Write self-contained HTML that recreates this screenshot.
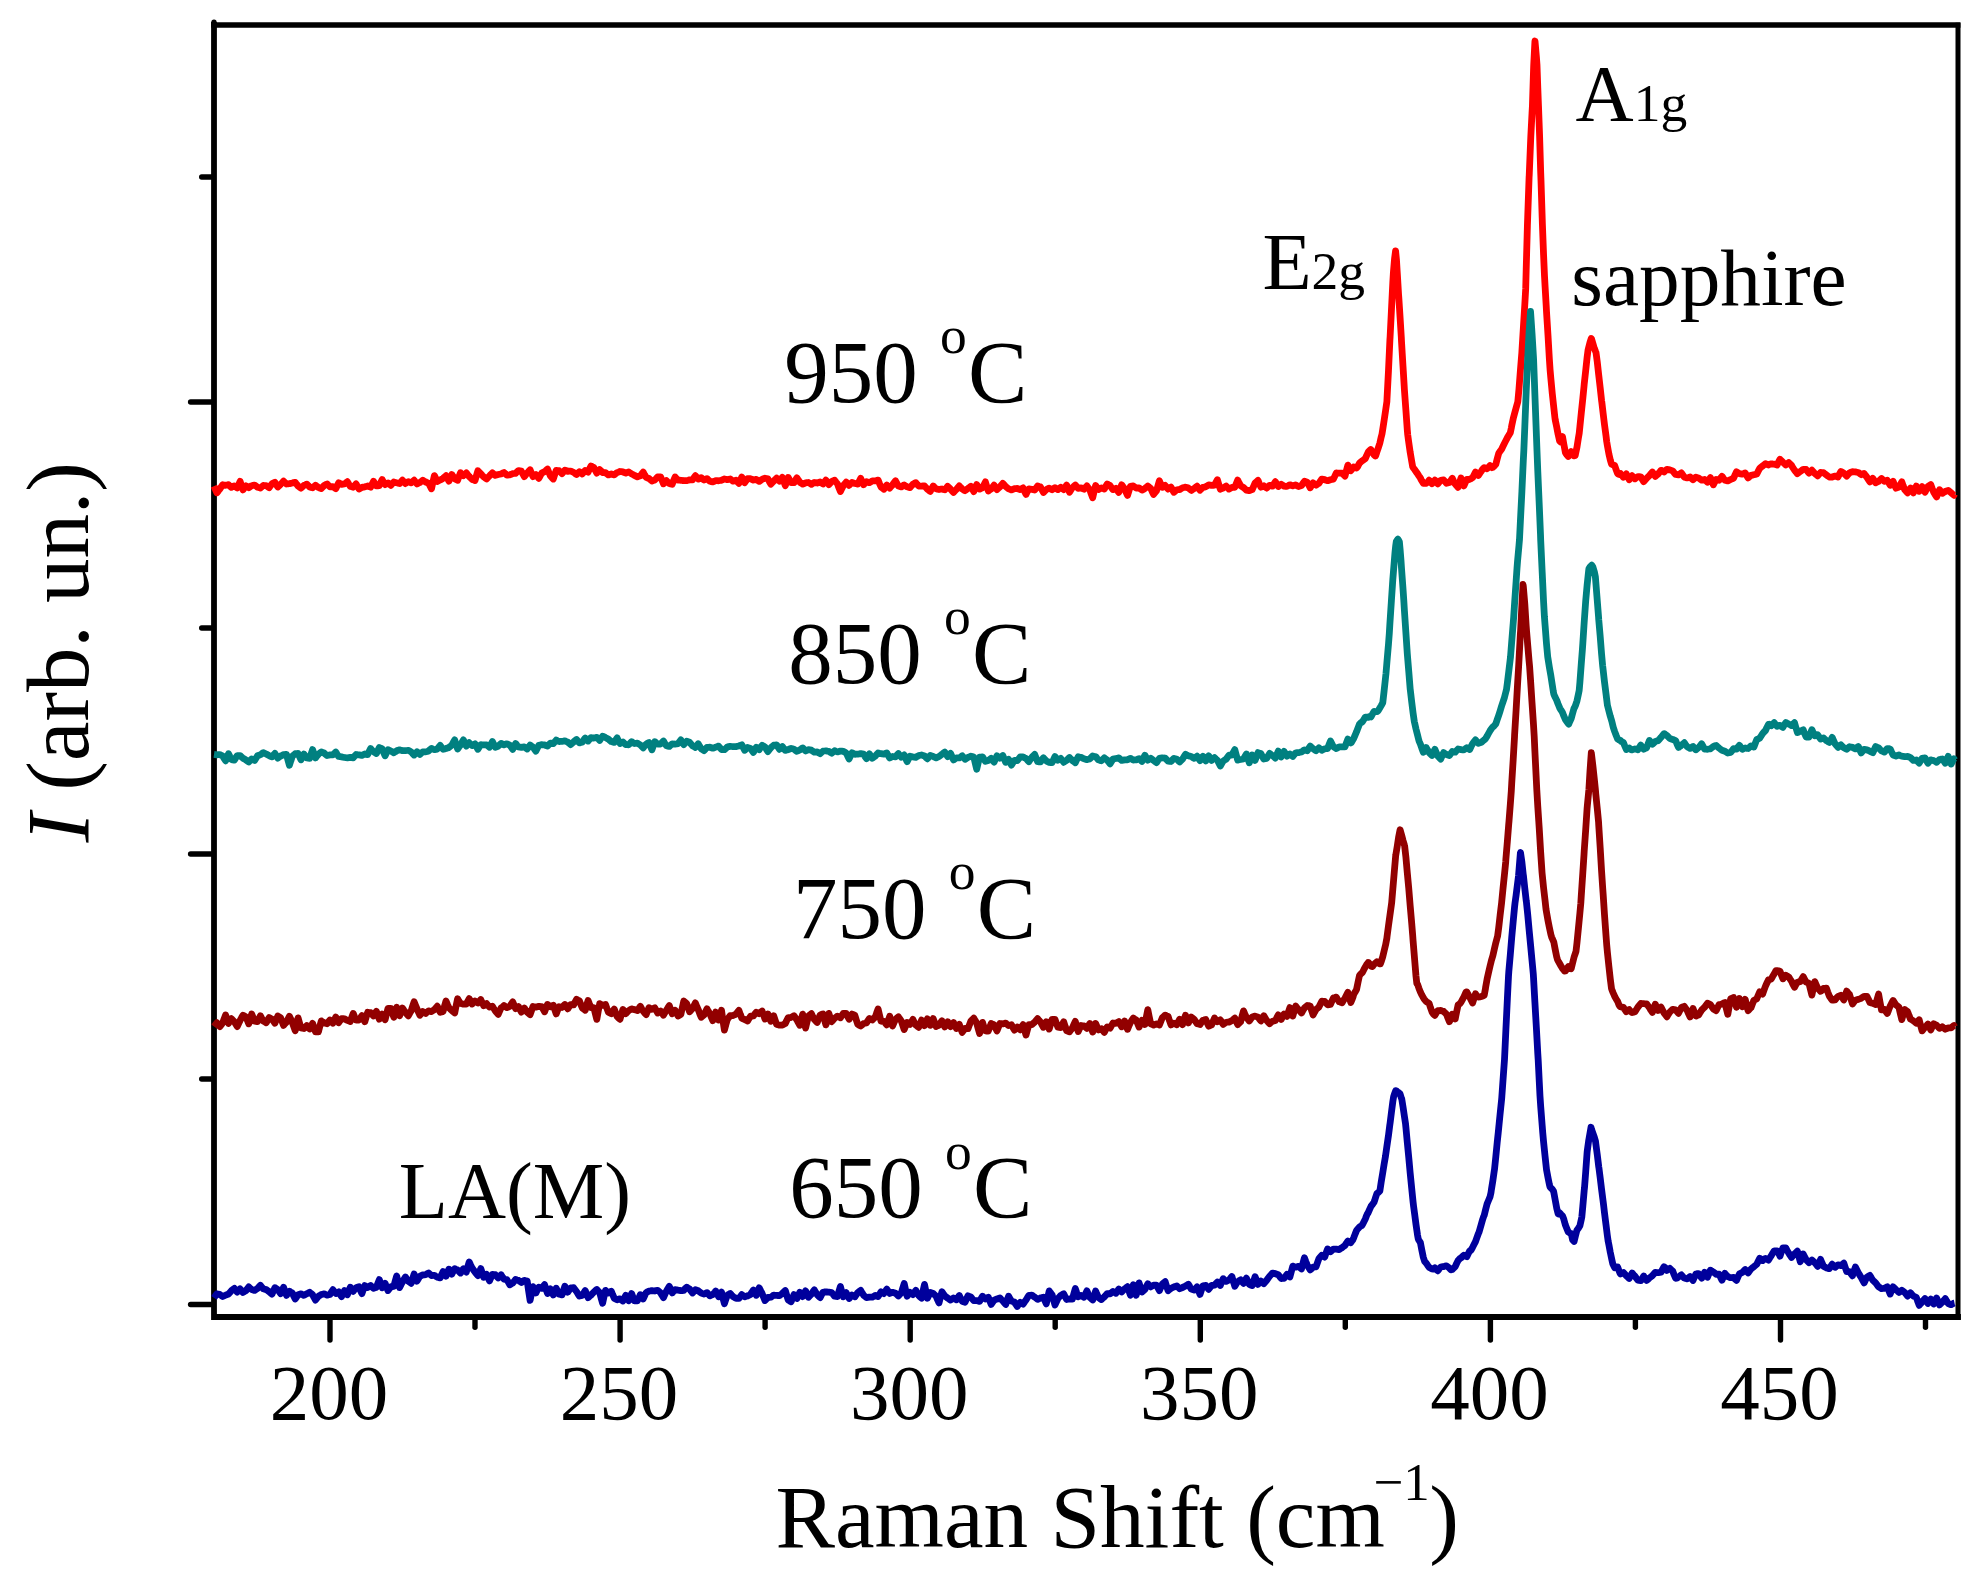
<!DOCTYPE html>
<html lang="en"><head><meta charset="utf-8"><title>Raman spectra</title>
<style>html,body{margin:0;padding:0;background:#fff;overflow:hidden;}svg{display:block;}</style></head>
<body>
<svg width="1981" height="1584" viewBox="0 0 1981 1584">
<rect x="0" y="0" width="1981" height="1584" fill="#ffffff"/>
<g fill="none" stroke="#000" stroke-linecap="square" stroke-linejoin="miter"><path d="M214.0,25.0 L214.0,1317.0 L1958.0,1317.0" stroke-width="5.8"/><path d="M214.0,25.1 L1957.7,25.1" stroke-width="5.5"/><path d="M1958.0,25.3 L1958.0,1317.0" stroke-width="5.0"/></g>
<g stroke="#000" stroke-width="5.4" stroke-linecap="round"><line x1="214.0" y1="22.3" x2="214.0" y2="25.0"/><line x1="330.0" y1="1318.0" x2="330.0" y2="1340"/><line x1="475.0" y1="1318.0" x2="475.0" y2="1327.3"/><line x1="620.1" y1="1318.0" x2="620.1" y2="1340"/><line x1="765.1" y1="1318.0" x2="765.1" y2="1327.3"/><line x1="910.2" y1="1318.0" x2="910.2" y2="1340"/><line x1="1055.2" y1="1318.0" x2="1055.2" y2="1327.3"/><line x1="1200.3" y1="1318.0" x2="1200.3" y2="1340"/><line x1="1345.3" y1="1318.0" x2="1345.3" y2="1327.3"/><line x1="1490.4" y1="1318.0" x2="1490.4" y2="1340"/><line x1="1635.4" y1="1318.0" x2="1635.4" y2="1327.3"/><line x1="1780.5" y1="1318.0" x2="1780.5" y2="1340"/><line x1="1925.5" y1="1318.0" x2="1925.5" y2="1327.3"/><line x1="190.6" y1="1304.5" x2="213.0" y2="1304.5"/><line x1="201.7" y1="1079" x2="213.0" y2="1079"/><line x1="190.6" y1="854" x2="213.0" y2="854"/><line x1="201.7" y1="628" x2="213.0" y2="628"/><line x1="190.6" y1="402" x2="213.0" y2="402"/><line x1="201.7" y1="177" x2="213.0" y2="177"/></g>
<polyline points="214.0,486.1 215.4,489.4 216.9,492.8 218.0,491.4 218.3,490.9 219.8,489.1 221.2,486.9 222.7,484.7 224.1,485.0 225.6,485.3 227.0,485.0 228.5,484.7 229.9,486.1 231.4,487.4 232.8,486.6 234.3,485.9 235.7,486.9 237.2,487.9 238.6,484.6 240.1,481.4 241.5,485.6 243.0,489.9 244.4,487.8 245.9,485.8 247.3,486.7 248.8,487.7 250.2,486.7 251.7,485.7 253.1,485.4 254.6,485.1 256.0,486.1 257.5,487.2 258.9,487.6 260.4,488.1 261.8,486.8 263.3,485.5 264.7,485.6 266.2,485.6 267.6,486.7 269.1,487.7 270.5,485.8 272.0,483.8 273.4,483.0 274.9,482.2 276.3,484.6 277.8,487.0 279.2,485.7 280.7,484.3 282.1,482.8 283.6,481.2 285.0,482.6 286.5,484.0 287.9,483.8 289.4,483.7 290.0,483.5 290.8,483.3 292.3,483.0 293.7,482.6 295.2,482.3 296.6,484.2 298.1,486.1 299.5,487.2 301.0,488.2 302.4,486.8 303.9,485.4 305.3,484.8 306.8,484.1 308.2,485.6 309.7,487.0 311.1,487.4 312.6,487.8 314.0,486.5 315.5,485.2 316.9,486.3 318.4,487.4 319.8,488.0 321.3,488.6 322.7,487.0 324.2,485.5 325.6,484.7 327.1,484.0 328.5,485.4 330.0,486.9 331.4,486.7 332.9,486.6 334.3,487.7 335.8,488.7 337.2,485.8 338.7,482.8 340.1,483.6 341.6,484.3 343.0,484.1 344.5,483.9 345.9,482.8 347.4,481.7 348.8,484.0 350.3,486.3 351.0,486.6 351.7,486.8 353.2,487.2 354.6,485.5 356.1,483.9 357.5,486.5 359.0,489.0 360.4,488.2 361.9,487.4 363.3,487.1 364.8,486.8 366.2,486.4 367.7,486.0 369.1,486.6 370.6,487.2 372.0,484.2 373.5,481.3 374.9,483.6 376.4,485.9 377.8,485.8 379.3,485.7 380.7,482.6 382.2,479.6 383.6,482.1 385.1,484.6 386.5,483.8 388.0,482.9 389.4,484.1 390.9,485.3 392.3,483.6 393.8,482.0 395.2,482.4 396.7,482.8 398.1,483.1 399.6,483.5 401.0,481.8 402.5,480.2 403.9,481.9 405.4,483.6 406.8,482.6 408.3,481.7 409.7,482.3 411.2,482.9 412.6,481.5 414.1,480.2 415.5,482.0 417.0,483.9 418.4,483.2 419.9,482.5 420.0,482.4 421.3,481.4 422.8,480.3 424.2,481.1 425.7,482.0 427.1,482.6 428.6,483.3 430.0,486.0 431.5,488.8 432.9,482.2 434.4,475.6 435.8,478.5 437.3,481.4 438.7,480.7 440.2,480.0 441.6,479.2 443.1,478.3 444.5,477.0 446.0,475.7 447.4,478.4 448.9,481.1 450.3,477.8 451.8,474.5 453.2,476.6 454.7,478.7 456.1,479.5 457.6,480.3 459.0,476.5 460.5,472.7 461.9,474.2 463.4,475.7 464.8,474.3 466.3,472.9 467.7,474.7 469.2,476.5 470.6,477.9 472.1,479.4 473.0,479.7 473.5,479.9 475.0,480.5 476.4,475.7 477.9,470.8 479.3,472.3 480.8,473.7 482.2,475.3 483.7,476.8 485.1,477.9 486.6,478.9 488.0,477.4 489.5,475.9 490.9,474.4 492.4,472.9 493.8,474.1 495.3,475.4 496.7,474.9 498.2,474.5 499.6,474.2 501.1,473.9 502.5,473.2 504.0,472.5 505.4,473.8 506.9,475.1 508.3,475.0 509.8,474.8 511.2,474.3 512.7,473.7 514.1,473.5 515.6,473.3 517.0,471.9 518.5,470.6 519.9,470.9 521.4,471.2 522.8,473.9 524.3,476.6 525.7,474.8 527.2,473.0 528.6,471.4 530.1,469.8 531.5,473.2 533.0,476.6 534.4,475.5 535.9,474.5 537.3,476.4 538.8,478.3 540.0,476.2 540.2,475.7 541.7,473.1 543.1,472.4 544.6,471.7 546.0,470.4 547.5,469.1 548.9,472.5 550.4,476.0 551.8,477.5 553.3,479.0 554.7,474.7 556.2,470.4 557.6,470.6 559.1,470.7 560.5,472.2 562.0,473.7 563.4,471.9 564.9,470.1 566.3,470.7 567.8,471.4 569.2,471.2 570.7,471.1 572.1,471.7 573.6,472.3 575.0,473.4 576.5,474.5 577.9,473.1 579.4,471.7 580.8,472.8 582.3,473.9 583.7,472.1 585.2,470.4 586.6,471.3 588.1,472.2 589.5,469.1 591.0,466.0 592.4,466.8 593.9,467.6 595.3,470.4 596.8,473.1 598.2,471.4 599.7,469.6 601.1,471.0 602.6,472.5 603.0,472.4 604.0,472.5 605.5,472.6 606.9,473.8 608.4,474.9 609.8,474.5 611.3,474.0 612.7,474.5 614.2,474.9 615.6,473.7 617.1,472.6 618.5,472.1 620.0,471.5 621.4,471.7 622.9,471.9 624.3,472.5 625.8,473.0 627.2,472.4 628.7,471.9 630.1,472.9 631.6,473.8 633.0,474.6 634.5,475.4 635.9,476.1 637.4,476.8 638.8,476.3 640.3,475.8 641.7,474.0 643.2,472.2 644.6,474.8 646.1,477.3 647.5,477.9 649.0,478.4 650.4,479.7 651.9,481.0 653.3,480.5 654.0,480.3 654.8,480.0 656.2,478.5 657.7,477.0 659.1,476.9 660.6,476.9 662.0,480.3 663.5,483.8 664.9,482.2 666.4,480.7 667.8,482.1 669.3,483.5 670.7,483.9 672.2,484.3 673.6,480.6 675.1,477.0 676.5,478.5 678.0,480.1 679.4,480.2 680.9,480.3 682.3,480.5 683.8,480.6 685.2,480.6 686.7,480.6 688.1,480.3 689.6,479.9 691.0,479.9 692.5,479.9 693.9,477.8 695.4,475.7 696.8,477.4 698.3,479.1 699.7,478.4 701.2,477.7 702.6,478.9 704.1,480.0 705.5,479.3 707.0,478.6 708.4,479.9 709.9,481.3 711.3,481.6 712.8,481.9 714.2,481.3 715.7,480.7 717.1,480.7 718.6,480.8 720.0,480.5 720.0,480.5 721.5,480.3 722.9,479.6 724.4,479.0 725.8,479.3 727.3,479.7 728.7,479.3 730.2,479.0 731.6,480.1 733.1,481.2 734.5,480.8 736.0,480.3 737.4,481.8 738.9,483.3 740.3,480.2 741.8,477.1 743.2,479.9 744.7,482.7 746.1,480.6 747.6,478.6 749.0,478.7 750.5,478.7 751.9,479.4 753.4,480.1 754.8,479.7 756.3,479.3 757.7,480.4 759.2,481.4 760.6,480.4 762.1,479.3 763.5,478.7 765.0,478.2 766.4,478.5 767.9,478.8 769.3,481.5 770.8,484.2 772.2,482.7 773.7,481.1 775.1,479.6 776.6,478.1 778.0,479.6 779.5,481.1 780.9,479.2 782.4,477.3 783.8,481.5 785.3,485.7 786.7,481.6 788.2,477.5 789.6,480.0 791.1,482.5 792.5,482.6 794.0,482.7 795.4,480.3 796.9,477.8 798.3,480.0 799.8,482.2 800.0,482.4 801.2,483.2 802.7,484.1 804.1,483.5 805.6,482.9 807.0,482.7 808.5,482.5 809.9,483.4 811.4,484.3 812.8,483.4 814.3,482.5 815.7,482.7 817.2,483.0 818.6,482.5 820.1,482.0 821.5,483.0 823.0,484.0 824.4,482.1 825.9,480.2 827.3,482.4 828.8,484.6 830.2,483.1 831.7,481.5 833.1,480.8 834.6,480.2 836.0,482.1 837.5,483.9 838.9,487.8 840.4,491.6 841.8,488.6 843.3,485.7 844.7,483.9 846.2,482.1 847.6,483.7 849.1,485.3 850.5,483.9 852.0,482.5 853.4,483.0 854.9,483.5 856.3,483.8 857.8,484.1 859.2,481.2 860.7,478.3 862.1,481.5 863.6,484.7 865.0,483.2 866.5,481.7 867.9,482.2 869.4,482.7 870.8,481.8 872.3,480.9 873.7,480.9 875.2,480.9 876.6,480.5 878.1,480.1 879.5,483.6 881.0,487.0 882.4,488.1 883.9,489.2 885.3,487.2 886.8,485.1 888.2,486.6 889.7,488.1 891.1,486.4 892.6,484.8 894.0,482.8 895.5,480.8 896.9,483.4 898.4,486.1 899.8,486.5 901.3,486.9 902.7,485.9 904.2,484.9 905.6,485.9 907.1,486.8 908.5,487.2 910.0,487.6 911.4,485.9 912.9,484.2 914.3,483.4 915.8,482.7 917.2,484.4 918.7,486.0 920.1,486.1 921.6,486.1 923.0,486.0 924.5,485.9 925.9,487.6 927.4,489.3 928.8,490.3 930.3,491.3 931.0,490.0 931.7,488.6 933.2,486.0 934.6,487.4 936.1,488.8 937.5,489.2 939.0,489.5 940.4,489.2 941.9,489.0 943.3,489.4 944.8,489.8 946.2,488.1 947.7,486.3 949.1,487.7 950.6,489.2 952.0,490.8 953.5,492.4 954.9,490.9 956.4,489.4 957.8,487.7 959.3,485.9 960.7,487.5 962.2,489.0 963.6,489.9 965.1,490.7 966.5,489.6 968.0,488.5 969.4,487.4 970.9,486.3 972.3,488.9 973.8,491.6 975.2,488.1 976.7,484.6 978.1,486.8 979.6,489.1 981.0,488.4 982.5,487.8 983.9,484.9 985.4,481.9 986.8,486.5 988.3,491.0 989.7,489.9 991.2,488.9 992.6,487.0 994.1,485.1 995.5,487.3 997.0,489.6 998.4,488.3 999.9,487.0 1001.3,485.2 1002.8,483.4 1004.2,484.9 1005.7,486.5 1007.1,487.7 1008.6,488.9 1010.0,489.4 1011.5,489.9 1012.9,489.3 1014.4,488.7 1015.8,488.6 1017.3,488.5 1018.7,489.0 1020.2,489.6 1021.6,488.8 1023.1,487.9 1024.5,491.2 1026.0,494.4 1027.4,491.6 1028.9,488.9 1030.3,489.1 1031.8,489.3 1033.2,489.6 1034.7,490.0 1036.1,488.0 1037.6,486.0 1039.0,486.5 1040.5,486.9 1041.9,489.7 1043.4,492.5 1044.8,491.1 1046.3,489.6 1047.7,488.8 1049.2,488.1 1050.6,488.9 1052.1,489.7 1053.5,488.7 1055.0,487.7 1056.4,488.6 1057.9,489.6 1059.3,488.4 1060.8,487.3 1062.2,488.5 1063.7,489.6 1065.1,487.3 1066.6,485.0 1068.0,488.6 1068.0,488.7 1069.5,492.3 1070.9,490.0 1072.4,487.7 1073.8,486.3 1075.3,485.0 1076.7,486.7 1078.2,488.3 1079.6,488.1 1081.1,487.9 1082.5,488.6 1084.0,489.2 1085.4,487.6 1086.9,485.9 1088.3,487.8 1089.8,489.7 1091.2,493.8 1092.7,497.8 1094.1,491.6 1095.6,485.5 1097.0,487.5 1098.5,489.5 1099.9,488.7 1101.4,487.8 1102.8,488.4 1104.3,489.0 1105.7,486.5 1107.2,484.0 1108.6,484.8 1110.1,485.6 1111.5,487.6 1113.0,489.6 1114.4,488.9 1115.9,488.3 1117.3,490.4 1118.8,492.4 1120.2,488.6 1121.7,484.8 1123.1,486.7 1124.6,488.7 1126.0,492.1 1127.5,495.5 1128.9,490.9 1130.4,486.3 1131.8,486.1 1133.3,485.9 1134.7,486.9 1136.2,488.0 1137.6,488.0 1139.1,487.9 1140.5,489.0 1142.0,490.1 1143.4,489.4 1144.9,488.6 1146.3,487.3 1147.8,486.0 1149.2,487.2 1150.7,488.4 1152.1,491.4 1153.6,494.4 1155.0,492.7 1156.5,490.9 1157.9,485.9 1159.4,480.8 1160.8,484.0 1162.3,487.3 1163.7,486.4 1165.2,485.4 1166.6,487.3 1168.1,489.1 1169.5,488.1 1171.0,487.1 1172.4,489.7 1173.9,492.3 1174.0,492.2 1175.3,491.1 1176.8,489.8 1178.2,489.7 1179.7,489.6 1181.1,488.7 1182.6,487.8 1184.0,487.5 1185.5,487.2 1186.9,487.6 1188.4,488.1 1189.8,489.2 1191.3,490.4 1192.7,489.4 1194.2,488.5 1195.6,487.3 1197.1,486.2 1198.5,488.2 1200.0,490.2 1201.4,488.8 1202.9,487.4 1204.3,487.1 1205.8,486.7 1207.2,485.8 1208.7,484.9 1210.1,485.1 1211.6,485.4 1213.0,485.3 1214.5,485.1 1215.9,482.4 1217.4,479.7 1218.8,484.4 1220.3,489.2 1221.7,488.6 1223.2,488.0 1224.6,487.0 1226.1,486.0 1227.5,487.5 1229.0,489.1 1230.4,488.3 1231.9,487.5 1233.3,487.4 1234.8,487.3 1236.2,483.7 1237.7,480.1 1239.1,482.9 1240.6,485.7 1242.0,486.6 1243.5,487.5 1244.9,488.8 1246.4,490.1 1247.8,490.4 1249.3,490.7 1250.7,490.1 1252.2,489.6 1253.6,486.3 1255.1,483.0 1256.5,481.7 1258.0,480.4 1259.4,483.8 1260.9,487.2 1262.3,486.5 1263.8,485.8 1265.2,487.0 1266.7,488.1 1268.1,486.7 1269.6,485.3 1271.0,485.7 1272.5,486.1 1273.9,483.9 1275.4,481.7 1276.8,484.1 1278.3,486.5 1279.7,485.4 1281.2,484.2 1282.6,485.2 1284.1,486.2 1285.5,486.3 1287.0,486.4 1288.4,485.6 1289.9,484.8 1291.3,485.3 1292.8,485.9 1294.2,485.4 1295.0,485.2 1295.7,484.9 1297.1,485.7 1298.6,486.5 1300.0,486.1 1301.5,485.6 1302.9,483.5 1304.4,481.3 1305.8,481.8 1307.3,482.3 1308.7,485.0 1310.2,487.8 1311.6,485.3 1313.1,482.8 1314.5,484.0 1316.0,485.2 1317.4,484.2 1318.9,483.3 1320.3,481.2 1321.8,479.1 1323.2,479.4 1324.7,479.7 1325.0,479.9 1326.1,480.3 1327.6,480.7 1329.0,480.2 1330.5,479.7 1331.9,479.4 1333.4,479.1 1334.8,476.1 1336.3,473.0 1337.7,473.1 1339.2,473.2 1340.0,473.2 1340.6,473.2 1342.1,473.1 1343.5,474.6 1345.0,476.1 1346.4,470.6 1347.9,465.1 1349.3,467.9 1350.8,470.7 1352.2,468.9 1353.7,467.0 1355.1,467.5 1356.6,468.0 1357.8,466.4 1358.0,465.9 1359.5,463.1 1360.9,461.9 1362.4,460.7 1363.8,459.7 1365.3,458.7 1366.7,455.4 1368.2,452.1 1369.6,450.5 1370.7,449.5 1371.1,449.9 1372.5,452.2 1374.0,454.9 1375.4,456.0 1375.6,456.0 1376.9,451.9 1378.3,447.9 1379.8,443.3 1381.2,437.1 1382.0,434.0 1382.7,429.6 1384.1,420.4 1385.6,410.6 1386.9,401.4 1387.0,398.8 1388.5,370.4 1389.9,340.0 1390.1,336.9 1391.4,310.9 1392.8,282.6 1393.4,272.5 1394.3,261.8 1394.6,258.4 1395.6,250.8 1395.7,252.0 1396.5,260.1 1397.2,271.6 1397.4,275.0 1398.6,294.9 1398.9,298.9 1400.1,317.7 1401.3,337.1 1401.5,341.4 1403.0,366.2 1404.2,386.1 1404.4,389.6 1405.9,410.3 1407.3,430.1 1407.7,434.6 1408.8,442.7 1410.2,452.4 1411.7,461.2 1412.7,466.8 1413.1,467.6 1414.6,469.5 1416.0,471.6 1417.5,473.6 1418.9,475.8 1420.4,478.0 1420.8,479.0 1421.8,480.8 1423.3,483.3 1424.7,483.4 1426.2,483.3 1427.6,482.2 1428.0,481.8 1429.1,480.2 1430.5,482.0 1432.0,483.7 1433.4,481.9 1434.9,480.1 1436.3,482.0 1437.8,483.9 1439.2,482.1 1440.7,480.3 1442.1,480.1 1443.6,479.9 1445.0,481.5 1446.5,483.2 1447.9,482.8 1449.4,482.5 1450.8,480.4 1452.3,478.3 1453.0,479.7 1453.7,481.2 1455.2,484.1 1456.6,485.7 1458.1,487.3 1459.5,482.7 1461.0,478.0 1462.4,482.0 1463.9,485.9 1465.3,482.7 1466.8,479.4 1468.2,479.5 1469.3,479.5 1469.7,479.3 1471.1,478.6 1472.6,477.7 1474.0,474.9 1475.5,472.0 1476.9,473.7 1478.4,475.5 1479.8,473.3 1481.3,471.3 1482.2,469.8 1482.7,469.2 1484.2,467.6 1485.6,468.2 1487.1,468.8 1488.5,467.3 1490.0,465.7 1491.4,467.2 1491.9,467.7 1492.9,467.3 1494.3,466.0 1495.8,464.3 1497.2,458.8 1498.7,453.3 1500.1,451.2 1501.6,449.2 1501.6,449.2 1503.0,446.3 1504.5,443.2 1505.9,440.5 1507.4,437.6 1508.8,435.3 1510.3,432.8 1511.3,428.1 1511.7,425.7 1513.2,418.7 1514.6,413.4 1516.1,407.8 1517.5,402.8 1517.8,401.8 1519.0,388.7 1520.4,370.5 1521.8,353.0 1521.9,351.4 1523.3,328.6 1524.8,304.6 1525.7,288.7 1526.2,269.1 1527.4,225.8 1527.7,217.2 1529.1,177.1 1529.2,175.8 1530.6,141.4 1530.8,136.7 1532.0,113.3 1532.4,106.3 1533.5,71.1 1533.7,65.1 1534.9,41.7 1535.0,41.0 1536.4,56.8 1537.0,65.0 1537.8,87.8 1538.5,106.1 1539.3,127.9 1539.6,136.1 1540.7,172.7 1541.0,180.7 1542.2,218.1 1542.4,224.3 1543.6,255.5 1544.5,275.8 1545.1,286.8 1546.2,305.8 1546.5,311.5 1548.0,335.4 1549.4,359.6 1550.1,370.0 1550.9,379.0 1552.3,393.7 1553.8,407.6 1555.0,418.5 1555.2,419.8 1556.7,427.0 1558.1,434.3 1559.6,440.9 1560.6,442.0 1561.0,440.2 1562.5,436.6 1563.9,444.5 1565.4,452.5 1566.3,454.1 1566.8,454.8 1568.3,456.5 1569.7,454.1 1571.2,451.6 1572.6,453.8 1574.1,455.9 1575.2,455.5 1575.5,454.0 1577.0,447.0 1578.4,437.9 1579.2,433.3 1579.9,426.6 1581.3,412.9 1582.8,398.7 1584.0,386.5 1584.2,384.2 1585.7,370.6 1587.1,357.4 1588.0,350.4 1588.6,347.9 1590.0,342.3 1591.3,338.4 1591.5,338.8 1592.9,343.4 1594.4,348.6 1595.8,352.1 1596.0,352.5 1597.3,362.1 1598.7,374.8 1600.2,387.9 1601.6,400.7 1601.8,402.0 1603.1,413.2 1604.5,424.7 1606.0,435.8 1606.7,441.5 1607.4,445.7 1608.9,454.0 1610.3,460.0 1611.5,464.1 1611.8,464.3 1613.2,465.0 1614.7,465.5 1616.1,469.6 1617.6,473.7 1619.0,474.4 1619.2,474.5 1620.5,473.6 1621.9,475.4 1623.4,477.2 1624.8,475.6 1626.3,473.9 1627.7,476.9 1629.2,479.8 1630.6,477.8 1632.1,475.7 1633.5,477.2 1635.0,478.8 1636.4,477.7 1637.9,476.7 1639.3,476.7 1640.8,476.8 1642.2,479.2 1643.7,481.7 1644.0,481.4 1645.1,480.1 1646.6,478.3 1648.0,476.9 1649.5,475.5 1650.9,473.7 1652.4,472.0 1653.8,474.2 1655.3,476.4 1656.7,475.2 1658.2,474.0 1659.6,472.1 1661.1,470.3 1661.5,470.4 1662.5,471.0 1664.0,472.0 1665.4,470.6 1666.9,469.3 1668.3,469.6 1669.8,469.9 1671.2,470.4 1672.7,470.9 1674.1,472.7 1675.6,474.4 1677.0,474.6 1677.0,474.6 1678.5,474.8 1679.9,473.9 1681.4,472.9 1682.8,475.0 1684.3,477.2 1685.7,477.6 1687.2,477.9 1688.6,477.5 1690.1,477.0 1691.5,478.4 1693.0,479.8 1694.4,478.5 1695.9,477.1 1697.3,477.6 1698.8,478.2 1700.0,479.0 1700.2,479.2 1701.7,480.2 1703.1,479.9 1704.6,479.5 1706.0,480.8 1707.5,482.2 1708.9,479.9 1710.4,477.6 1711.8,481.2 1713.3,484.8 1714.7,482.2 1715.4,481.1 1716.2,479.4 1717.6,479.8 1719.1,480.2 1720.5,478.2 1722.0,476.3 1723.4,478.3 1724.9,480.2 1726.3,480.6 1727.8,480.9 1729.2,480.2 1730.7,479.5 1732.1,478.8 1733.6,478.1 1734.6,475.8 1735.0,474.9 1736.5,471.8 1737.9,472.7 1739.4,473.6 1740.8,473.9 1742.3,474.2 1743.7,473.6 1745.2,472.9 1746.6,475.4 1748.1,477.9 1749.5,476.7 1751.0,475.4 1752.4,475.1 1753.8,474.8 1753.9,474.7 1755.3,474.4 1756.8,474.0 1758.2,471.2 1759.7,468.4 1761.1,467.2 1762.6,466.0 1764.0,464.9 1765.5,463.7 1766.9,464.3 1768.4,465.0 1769.2,464.4 1769.8,464.3 1771.3,463.9 1772.7,464.0 1774.2,464.2 1775.6,464.6 1777.1,465.1 1778.5,462.0 1778.8,461.4 1780.0,459.3 1781.4,460.7 1782.9,462.2 1784.3,463.6 1785.8,465.0 1787.2,463.8 1788.7,462.5 1790.1,464.0 1791.6,465.5 1792.3,466.7 1793.0,467.9 1794.5,470.1 1795.9,471.9 1797.4,473.7 1798.8,472.6 1800.3,471.4 1801.7,470.4 1803.2,469.4 1804.6,469.4 1806.1,469.4 1807.5,471.3 1809.0,473.2 1810.4,471.7 1811.5,470.6 1811.9,470.2 1813.3,471.8 1814.8,473.5 1816.2,474.7 1817.7,475.9 1819.1,474.2 1820.6,472.5 1822.0,472.6 1823.5,472.7 1824.9,473.8 1826.4,474.9 1827.8,476.0 1829.3,477.0 1830.7,477.1 1830.8,477.1 1832.2,477.0 1833.6,476.5 1835.1,476.1 1836.5,476.5 1838.0,477.0 1839.4,474.2 1840.9,471.5 1842.3,472.3 1843.8,473.2 1845.2,474.6 1846.7,476.1 1848.1,474.4 1849.6,472.8 1851.0,472.2 1852.5,471.7 1853.9,471.8 1855.4,471.9 1856.8,472.2 1858.3,472.5 1859.6,473.3 1859.7,473.5 1861.2,474.7 1862.6,474.0 1864.1,473.4 1865.5,475.4 1867.0,477.4 1868.4,479.6 1869.9,481.9 1871.3,480.1 1872.8,478.3 1874.2,480.6 1875.7,482.8 1877.1,482.0 1878.6,481.3 1878.8,481.1 1880.0,479.9 1881.5,478.5 1882.9,479.9 1884.4,481.4 1885.8,480.8 1887.3,480.3 1888.7,482.8 1890.2,485.3 1891.6,483.3 1893.1,481.3 1894.5,484.7 1896.0,488.2 1897.4,487.6 1898.0,487.4 1898.9,487.1 1900.3,484.5 1901.8,481.8 1903.2,485.8 1904.7,489.8 1906.1,491.3 1907.6,492.8 1909.0,490.4 1910.5,488.0 1911.5,489.8 1911.9,490.5 1913.4,492.8 1914.8,489.4 1916.3,486.0 1917.7,488.6 1919.2,491.3 1920.6,489.0 1922.1,486.7 1923.5,489.4 1925.0,492.2 1926.4,489.4 1927.9,486.6 1929.3,485.6 1930.8,484.6 1930.8,484.6 1932.2,488.4 1933.7,492.2 1935.1,494.6 1936.6,496.9 1938.0,493.3 1939.5,489.7 1940.9,491.5 1942.4,493.3 1943.8,492.4 1945.3,491.5 1946.7,490.9 1948.2,490.4 1949.6,491.6 1951.1,492.7 1952.5,494.0 1954.0,495.3 1954.5,494.1" fill="none" stroke="#ff0000" stroke-width="6.8" stroke-linejoin="round" stroke-linecap="butt"/>
<polyline points="214.0,754.4 215.4,754.6 216.9,754.8 218.0,754.7 218.3,754.7 219.8,754.6 221.2,755.3 222.7,756.1 224.1,758.4 225.6,760.8 227.0,757.3 228.5,753.7 229.9,756.6 231.4,759.5 232.8,759.9 234.3,760.2 235.7,757.9 237.2,755.6 238.6,755.6 240.1,755.6 241.5,756.9 243.0,758.2 244.4,759.0 245.9,759.9 247.3,760.9 248.8,762.0 250.2,760.5 251.7,759.0 253.1,759.8 254.6,760.5 256.0,758.2 257.5,755.8 258.9,755.3 260.4,754.7 261.8,753.7 263.3,752.7 264.7,753.3 266.2,754.0 267.6,754.8 269.1,755.7 270.5,756.3 272.0,756.9 273.4,755.1 274.9,753.4 276.3,755.8 277.8,758.2 279.2,757.1 280.7,756.0 282.1,755.4 283.6,754.7 285.0,754.5 286.5,754.4 287.9,759.8 289.4,765.3 290.8,760.8 291.0,760.4 292.3,756.3 293.7,755.0 295.2,753.7 296.6,753.6 298.1,753.5 299.5,756.6 301.0,759.8 302.4,756.9 303.9,754.1 305.3,756.0 306.8,758.0 308.2,758.2 309.7,758.4 311.1,754.0 312.6,749.6 314.0,753.8 315.5,757.9 316.9,756.0 318.4,754.2 319.8,753.1 321.3,752.0 322.7,752.6 324.2,753.1 325.6,754.3 327.1,755.5 328.5,755.2 330.0,754.9 331.4,754.9 332.9,754.9 334.3,753.5 335.8,752.1 337.2,754.3 338.7,756.5 340.1,756.7 341.6,756.9 343.0,757.2 344.5,757.5 345.9,757.7 347.4,757.8 348.8,757.6 350.3,757.4 351.5,757.5 351.7,757.6 353.2,757.8 354.6,756.1 356.1,754.5 357.5,754.7 359.0,754.8 360.4,755.1 361.9,755.4 363.3,754.7 364.8,753.9 366.2,754.3 367.7,754.6 369.1,751.6 370.6,748.6 372.0,750.2 373.5,751.7 374.9,752.6 376.4,753.5 377.8,750.5 379.3,747.5 380.7,748.2 382.2,748.9 383.6,752.4 385.1,755.8 386.5,752.8 388.0,749.7 389.4,750.3 390.9,751.0 392.3,751.9 393.8,752.8 395.2,751.8 396.7,750.8 398.1,750.3 399.6,749.9 401.0,750.2 402.5,750.6 403.9,750.6 405.4,750.7 406.8,750.5 408.3,750.3 409.7,751.1 411.2,751.9 412.0,752.8 412.6,753.5 414.1,755.0 415.5,753.4 417.0,751.8 418.4,753.1 419.9,754.4 421.3,753.2 422.8,752.0 424.2,751.9 425.7,751.8 427.1,751.4 428.6,750.9 430.0,749.7 431.5,748.5 432.9,749.1 434.4,749.7 435.8,749.4 437.3,749.1 438.7,747.2 440.2,745.4 441.6,747.3 443.1,749.3 444.5,748.9 446.0,748.5 447.4,748.0 448.9,747.6 450.3,746.3 451.8,745.1 453.2,742.5 454.7,739.9 456.1,744.5 457.6,749.0 459.0,747.0 460.5,745.1 461.9,742.5 463.4,739.9 464.8,743.0 466.3,746.1 467.7,744.4 469.2,742.7 470.6,744.2 472.1,745.6 472.7,745.2 473.5,744.7 475.0,743.8 476.4,746.6 477.9,749.3 479.3,747.0 480.8,744.7 482.2,744.8 483.7,744.9 485.1,744.9 486.6,745.0 488.0,746.1 489.5,747.2 490.9,744.3 492.4,741.5 493.8,744.4 495.3,747.2 496.7,746.7 498.2,746.2 499.6,744.8 501.1,743.4 502.5,744.1 504.0,744.8 505.4,744.3 506.9,743.8 508.3,744.5 509.8,745.1 511.2,747.2 512.7,749.4 514.1,746.4 515.6,743.5 517.0,745.2 518.5,746.9 519.9,747.2 521.4,747.4 522.8,747.1 524.3,746.8 525.7,747.9 527.2,749.0 528.6,747.0 530.1,745.1 531.5,746.1 533.0,747.1 533.0,747.1 534.4,749.1 535.9,751.1 537.3,748.2 538.8,745.3 540.2,745.0 541.7,744.7 543.1,744.8 544.6,744.9 546.0,745.5 547.5,746.0 548.9,744.6 550.4,743.1 551.8,743.4 553.3,743.7 554.7,741.9 556.2,740.1 557.6,740.8 559.1,741.5 560.5,741.4 562.0,741.3 563.4,741.1 564.9,740.8 566.3,741.5 567.8,742.2 569.2,743.4 570.7,744.6 572.1,743.3 573.6,741.9 575.0,740.7 576.5,739.5 577.9,741.2 578.8,742.2 579.4,742.9 580.8,742.5 582.3,742.2 583.7,740.1 585.2,738.0 586.6,739.5 588.1,741.0 589.5,739.3 591.0,737.6 592.4,737.8 593.9,738.1 595.3,737.7 596.8,737.3 598.2,738.8 599.7,740.4 601.1,738.2 602.6,736.2 603.0,736.3 604.0,736.8 605.5,737.6 606.9,738.4 608.4,739.1 609.8,740.3 611.3,741.6 612.7,742.0 614.2,742.4 615.6,740.1 617.1,737.9 618.5,740.7 620.0,743.5 621.4,742.7 622.9,742.0 624.3,743.3 625.8,744.6 627.2,744.7 628.7,744.8 630.1,743.2 631.6,741.7 633.0,742.6 634.5,743.5 635.9,743.3 637.4,743.1 638.8,744.0 639.4,744.4 640.3,744.9 641.7,746.3 643.2,747.8 644.6,746.0 646.1,744.1 647.5,743.3 649.0,742.5 650.4,746.2 651.9,749.8 653.3,745.8 654.8,741.7 656.2,742.9 657.7,744.0 659.1,744.0 660.6,744.0 662.0,742.5 663.5,741.1 664.9,743.4 666.4,745.8 667.8,746.1 669.3,746.4 670.7,745.1 672.2,743.8 673.6,744.0 675.1,744.1 676.5,743.9 678.0,743.6 679.4,741.8 680.9,739.9 682.3,742.3 683.8,744.6 684.8,743.4 685.2,742.9 686.7,741.3 688.1,741.8 689.6,742.3 691.0,744.1 692.5,745.8 693.9,746.6 695.4,747.4 696.8,745.6 698.3,743.8 699.7,746.3 701.2,748.8 702.6,749.7 704.1,750.7 705.5,749.0 707.0,747.4 708.4,747.3 709.9,747.2 711.3,747.7 712.8,748.2 714.2,747.7 715.0,747.4 715.7,747.1 717.1,746.6 718.6,746.1 720.0,747.8 721.5,749.5 722.9,749.6 724.4,749.7 725.8,748.4 727.3,747.0 728.7,746.6 730.2,746.3 731.6,746.5 733.1,746.7 734.5,746.7 736.0,746.6 737.4,746.3 738.9,746.0 740.3,745.4 741.8,744.8 743.2,747.5 744.7,750.3 746.1,748.9 747.6,747.5 749.0,747.9 750.5,748.4 751.9,750.4 753.4,752.4 754.8,749.8 756.3,747.2 757.7,748.4 759.2,749.7 760.6,747.5 762.1,745.3 763.5,746.1 765.0,746.9 766.4,749.3 767.9,751.6 769.3,749.7 770.8,747.8 772.2,746.5 773.7,745.2 775.1,745.1 776.6,744.9 778.0,747.1 779.5,749.3 780.0,748.8 780.9,747.9 782.4,746.5 783.8,748.4 785.3,750.4 786.7,750.0 788.2,749.6 789.6,749.0 791.1,748.4 792.5,748.8 794.0,749.2 795.4,750.3 796.9,751.3 798.3,750.6 799.8,749.9 801.2,748.9 802.7,747.9 804.1,749.4 805.6,751.0 807.0,750.3 808.5,749.7 809.9,749.9 811.4,750.2 812.8,751.2 814.3,752.2 815.7,752.1 817.2,751.9 818.6,752.8 820.1,753.7 821.5,752.5 823.0,751.2 824.4,751.0 825.9,750.8 827.3,751.1 828.8,751.3 830.2,752.3 831.7,753.2 833.1,752.0 834.6,750.7 836.0,751.3 837.5,751.9 838.9,751.5 840.4,751.1 840.6,751.1 841.8,751.2 843.3,751.4 844.7,752.1 846.2,752.9 847.6,755.9 849.1,758.9 850.5,755.8 852.0,752.7 853.4,753.5 854.9,754.3 856.3,754.2 857.8,754.1 859.2,753.9 860.7,753.6 862.1,753.9 863.6,754.2 865.0,756.5 866.5,758.7 867.9,756.3 869.4,753.9 870.8,756.1 872.3,758.2 873.7,757.2 875.2,756.2 876.6,754.6 878.1,752.9 879.5,753.3 881.0,753.6 882.4,753.9 883.9,754.1 885.3,753.5 886.8,752.9 888.2,755.5 889.7,758.0 891.1,757.3 892.6,756.5 894.0,756.7 895.5,756.9 896.9,755.2 898.4,753.6 899.8,755.3 901.0,756.7 901.3,757.1 902.7,756.0 904.2,754.9 905.6,758.3 907.1,761.7 908.5,758.9 910.0,756.1 911.4,756.6 912.9,757.0 914.3,757.2 915.8,757.4 917.2,756.5 918.7,755.6 920.1,755.3 921.6,755.0 923.0,755.4 924.5,755.9 925.9,757.4 927.4,758.8 928.8,757.1 930.3,755.4 931.7,755.9 933.2,756.4 934.6,757.2 936.1,757.9 937.5,757.2 939.0,756.4 940.4,755.4 941.9,754.3 943.3,753.2 944.8,752.2 946.2,754.4 947.7,756.7 949.1,755.0 950.6,753.4 952.0,756.6 953.5,759.9 954.9,758.9 956.4,757.9 957.8,757.9 959.3,757.9 960.7,756.9 962.2,755.8 963.6,757.6 965.1,759.3 966.5,758.4 968.0,757.4 969.4,756.8 970.9,756.2 972.3,756.6 973.8,757.0 975.2,763.1 976.7,769.2 978.1,763.2 979.6,757.2 981.0,757.0 982.5,756.8 983.9,759.1 985.4,761.4 986.8,760.9 988.3,760.5 989.7,759.4 991.2,758.3 992.0,759.4 992.6,760.2 994.1,762.1 995.5,758.9 997.0,755.8 998.4,756.9 999.9,758.1 1001.3,756.8 1002.8,755.5 1004.2,758.9 1005.7,762.3 1007.1,760.8 1008.6,759.4 1010.0,762.3 1011.5,765.1 1012.9,762.8 1014.4,760.4 1015.8,760.5 1017.3,760.5 1018.7,758.8 1020.2,757.0 1021.6,757.0 1023.1,756.9 1024.5,757.7 1026.0,758.5 1027.4,760.1 1028.9,761.7 1030.3,759.5 1031.8,757.4 1033.2,755.9 1034.7,754.4 1036.1,758.0 1037.6,761.7 1039.0,761.8 1040.5,761.9 1041.9,759.8 1043.4,757.8 1044.8,759.3 1046.3,760.9 1047.7,761.7 1049.2,762.4 1050.6,762.5 1052.1,762.6 1053.5,759.6 1055.0,756.5 1056.4,758.4 1057.9,760.2 1059.3,759.3 1060.8,758.4 1062.2,760.3 1063.7,762.3 1065.1,761.3 1066.6,760.4 1068.0,759.0 1069.5,757.5 1070.9,759.0 1072.4,760.5 1073.8,761.6 1075.3,762.7 1076.7,759.8 1078.2,756.8 1079.6,757.1 1081.1,757.3 1082.5,758.1 1083.0,758.3 1084.0,758.8 1085.4,759.2 1086.9,759.6 1088.3,759.3 1089.8,758.9 1091.2,757.5 1092.7,756.0 1094.1,756.3 1095.6,756.5 1097.0,758.2 1098.5,759.9 1099.9,760.4 1101.4,760.8 1102.8,759.3 1104.3,757.8 1105.7,759.0 1107.2,760.1 1108.6,762.0 1110.1,763.9 1111.5,761.5 1113.0,759.1 1114.4,758.8 1115.9,758.5 1117.3,758.2 1118.8,757.9 1120.2,759.1 1121.7,760.4 1123.1,760.1 1124.6,759.8 1126.0,759.8 1127.5,759.8 1128.9,759.0 1130.4,758.3 1131.8,759.1 1133.3,760.0 1134.7,759.9 1136.2,759.9 1137.6,759.2 1139.1,758.6 1140.5,760.0 1142.0,761.4 1143.4,758.3 1144.9,755.2 1146.3,757.7 1147.8,760.2 1149.2,759.2 1150.7,758.3 1152.1,759.3 1153.6,760.4 1155.0,761.5 1156.5,762.7 1157.9,760.5 1159.4,758.4 1160.8,758.1 1162.3,757.8 1163.7,758.0 1165.2,758.1 1166.6,759.6 1168.1,761.2 1169.5,761.3 1171.0,761.5 1172.4,759.9 1173.9,758.3 1174.0,758.3 1175.3,758.8 1176.8,759.3 1178.2,760.6 1179.7,761.9 1181.1,760.4 1182.6,759.0 1184.0,756.6 1185.5,754.3 1186.9,755.1 1188.4,755.8 1189.8,756.2 1191.3,756.5 1192.7,757.5 1194.2,758.4 1195.6,757.3 1197.1,756.2 1198.5,758.4 1200.0,760.6 1201.4,758.4 1202.9,756.3 1204.3,758.6 1205.8,760.9 1207.2,758.3 1208.7,755.8 1210.1,758.0 1211.6,760.3 1213.0,758.9 1214.5,757.6 1215.9,759.0 1217.4,760.3 1218.8,763.1 1220.3,766.0 1221.7,763.5 1223.2,761.0 1224.6,760.1 1226.1,759.3 1227.5,757.3 1229.0,755.2 1230.4,755.1 1231.9,755.0 1233.3,752.3 1234.8,749.6 1236.2,754.8 1237.7,760.1 1239.1,759.8 1240.6,759.5 1242.0,759.2 1243.5,758.9 1244.9,756.5 1246.4,754.0 1247.8,758.4 1249.3,762.8 1250.7,758.8 1252.2,754.9 1253.6,757.7 1255.1,760.4 1256.5,756.5 1258.0,752.6 1259.4,753.1 1260.9,753.6 1262.3,756.3 1263.8,759.0 1265.0,758.7 1265.2,758.7 1266.7,758.4 1268.1,755.9 1269.6,753.4 1271.0,754.5 1272.5,755.5 1273.9,756.8 1275.4,758.1 1276.8,754.6 1278.3,751.1 1279.7,754.0 1281.2,756.9 1282.6,754.1 1284.1,751.4 1285.5,753.8 1287.0,756.2 1288.4,755.0 1289.9,753.9 1291.3,755.2 1292.8,756.5 1294.2,754.7 1295.0,753.8 1295.7,752.8 1297.1,752.7 1298.6,752.6 1300.0,752.3 1301.5,751.9 1302.9,750.9 1304.4,749.9 1305.8,750.3 1307.3,750.7 1308.7,748.4 1310.2,746.1 1311.6,747.4 1313.1,748.7 1314.5,749.7 1316.0,750.8 1317.4,749.3 1318.9,747.8 1320.3,749.0 1321.8,750.3 1323.2,749.5 1324.7,748.8 1325.5,748.7 1326.1,748.6 1327.6,748.5 1329.0,744.8 1330.5,741.0 1331.9,743.8 1333.4,746.7 1334.8,747.6 1336.3,748.5 1337.7,747.7 1339.2,746.8 1340.0,746.9 1340.6,746.9 1342.1,746.9 1343.5,746.8 1345.0,746.8 1346.4,742.9 1347.9,739.1 1349.3,741.0 1350.8,742.9 1351.3,742.6 1352.2,741.0 1353.7,738.5 1355.1,735.1 1356.6,731.7 1358.0,727.9 1359.5,724.1 1360.9,722.7 1361.0,722.6 1362.4,721.9 1363.8,719.5 1365.3,717.1 1366.7,717.1 1368.2,717.4 1369.6,716.5 1370.7,716.5 1371.1,716.8 1372.5,714.0 1374.0,711.5 1375.4,711.6 1376.9,711.5 1377.2,711.6 1378.3,710.5 1379.8,708.0 1381.2,705.6 1382.7,702.8 1382.8,702.5 1384.1,691.0 1385.6,677.0 1386.0,673.3 1387.0,661.3 1388.5,644.0 1389.3,633.5 1389.9,623.5 1391.4,600.7 1392.5,584.3 1392.8,579.7 1394.3,560.9 1395.0,552.3 1395.7,545.7 1396.3,541.5 1397.2,540.0 1397.9,539.1 1398.6,540.4 1399.4,541.7 1400.1,549.3 1401.0,560.4 1401.5,568.1 1403.0,588.8 1403.8,600.5 1404.4,610.4 1405.9,632.7 1407.0,649.3 1407.3,653.7 1408.8,671.9 1410.2,689.2 1410.3,689.8 1411.7,701.8 1413.1,713.2 1414.3,721.6 1414.6,722.8 1416.0,729.0 1417.5,734.9 1418.9,740.5 1419.2,741.4 1420.4,744.1 1421.8,748.2 1423.3,752.2 1424.0,752.0 1424.7,750.6 1426.2,747.5 1427.6,750.1 1429.1,752.6 1430.5,754.0 1432.0,755.4 1433.4,752.3 1434.9,749.2 1436.3,752.7 1437.0,754.3 1437.8,756.0 1439.2,757.6 1440.7,759.1 1442.1,755.9 1443.6,752.6 1445.0,753.5 1446.5,754.5 1447.9,755.0 1449.4,755.5 1450.8,753.5 1452.3,751.5 1453.7,751.9 1455.2,752.2 1456.6,750.6 1458.1,749.0 1459.5,749.3 1461.0,749.6 1461.2,749.7 1462.4,749.8 1463.9,749.9 1465.3,748.8 1466.8,747.7 1468.2,748.6 1469.7,749.5 1471.1,746.5 1472.6,743.6 1474.0,741.6 1474.1,741.6 1475.5,739.9 1476.9,741.6 1478.4,743.4 1479.8,742.9 1481.3,742.3 1482.7,741.1 1484.2,739.9 1485.5,738.7 1485.6,738.5 1487.1,736.1 1488.5,733.5 1490.0,730.8 1491.4,728.8 1492.9,726.8 1493.5,726.7 1494.3,725.7 1495.8,723.8 1497.2,719.6 1498.7,715.3 1500.0,711.4 1500.1,710.9 1501.6,706.0 1503.0,701.8 1504.5,697.3 1505.9,691.7 1506.5,689.5 1507.4,682.7 1508.8,671.1 1510.3,658.7 1510.5,657.0 1511.7,641.8 1513.2,623.3 1513.7,616.9 1514.6,603.0 1516.1,581.5 1517.0,568.3 1517.5,561.8 1519.0,545.2 1519.5,539.4 1520.4,521.1 1521.9,491.3 1523.3,460.5 1523.8,451.0 1524.8,426.9 1526.2,391.6 1527.6,359.8 1527.7,358.1 1529.1,331.6 1530.5,311.3 1530.6,312.4 1532.0,333.1 1533.5,357.8 1533.6,359.5 1534.9,395.0 1536.4,435.1 1537.0,451.2 1537.8,471.6 1539.3,506.1 1540.5,534.6 1540.7,540.3 1542.0,568.3 1542.2,572.5 1543.6,602.1 1544.4,616.6 1545.1,625.6 1546.5,643.7 1547.7,656.8 1548.0,658.6 1549.4,667.5 1550.9,675.9 1552.3,685.1 1553.3,691.5 1553.8,694.1 1555.2,697.3 1556.7,700.2 1558.1,704.0 1559.6,707.6 1559.8,708.2 1561.0,710.1 1562.5,712.6 1563.9,716.2 1565.4,719.6 1566.8,721.7 1568.3,723.6 1568.7,724.1 1569.7,721.7 1571.2,718.5 1572.6,713.3 1574.1,708.0 1574.3,708.1 1575.5,705.3 1577.0,700.8 1578.4,694.3 1579.2,690.3 1579.9,682.2 1581.3,663.5 1582.4,649.6 1582.8,643.8 1584.2,622.1 1585.7,601.0 1585.7,601.0 1587.1,585.3 1588.6,571.1 1588.9,568.6 1590.0,567.0 1591.5,565.5 1591.8,565.1 1592.9,567.0 1594.4,571.9 1595.4,576.9 1595.8,582.0 1597.3,600.9 1598.6,617.4 1598.7,619.2 1600.2,636.5 1601.6,654.2 1602.6,665.3 1603.1,669.7 1604.5,682.0 1606.0,693.8 1607.4,705.1 1607.5,705.5 1608.9,711.0 1610.3,716.3 1611.8,721.3 1613.1,726.6 1613.2,727.1 1614.7,731.6 1616.1,735.3 1617.6,739.0 1619.0,739.9 1620.5,740.5 1621.2,741.5 1621.9,741.7 1623.4,742.5 1624.8,746.0 1626.3,749.5 1627.7,748.8 1629.2,747.9 1630.6,749.3 1630.9,749.6 1632.1,749.9 1633.5,749.4 1635.0,748.9 1636.4,749.3 1637.9,749.8 1638.0,749.6 1639.3,747.5 1640.8,745.1 1642.2,747.2 1643.7,749.2 1645.1,748.5 1646.6,747.8 1648.0,744.1 1649.5,740.4 1650.9,742.4 1652.0,743.8 1652.4,744.2 1653.8,742.9 1655.3,741.5 1656.7,741.1 1658.2,740.7 1659.6,739.0 1661.1,737.3 1662.5,735.5 1664.0,733.8 1664.4,733.6 1665.4,734.4 1666.9,735.5 1668.3,736.9 1669.8,738.5 1671.2,738.9 1672.7,739.4 1674.1,740.0 1675.6,740.6 1677.0,744.1 1678.5,747.5 1679.9,746.4 1680.8,745.8 1681.4,745.2 1682.8,744.0 1684.3,742.7 1685.7,744.7 1687.2,746.7 1688.6,747.6 1690.1,748.4 1691.5,747.4 1693.0,746.5 1694.4,748.2 1695.9,749.8 1696.0,749.8 1697.3,748.6 1698.8,747.3 1700.2,745.6 1701.7,743.8 1703.1,746.4 1704.6,749.1 1706.0,749.2 1707.5,749.3 1708.9,749.0 1710.4,748.8 1711.8,747.7 1713.3,746.6 1714.7,745.9 1715.4,745.6 1716.2,745.5 1717.6,746.8 1719.1,748.1 1720.5,749.2 1722.0,750.3 1723.4,750.8 1724.9,751.3 1726.3,752.1 1727.8,753.0 1729.2,752.7 1730.7,752.4 1730.8,752.3 1732.1,750.6 1733.6,748.7 1735.0,748.9 1736.5,749.2 1737.9,747.2 1739.4,745.3 1740.8,747.3 1742.3,749.3 1743.7,748.7 1745.2,748.0 1746.6,748.3 1748.1,748.5 1749.5,747.2 1751.0,745.9 1752.4,746.6 1753.8,747.1 1753.9,747.1 1755.3,743.3 1756.8,739.4 1758.2,738.9 1759.7,738.2 1761.1,736.0 1762.6,733.7 1764.0,732.0 1765.5,730.5 1766.9,727.4 1768.4,724.4 1769.2,724.2 1769.8,724.6 1771.3,725.7 1772.7,724.2 1774.2,722.7 1775.6,724.5 1777.1,726.3 1778.5,725.8 1780.0,725.3 1781.4,726.4 1782.9,727.4 1784.3,724.9 1785.8,722.5 1787.2,723.3 1788.7,724.1 1790.1,724.7 1790.4,724.8 1791.6,725.6 1793.0,724.1 1794.5,722.6 1795.9,727.6 1797.4,732.6 1798.8,731.9 1800.3,731.3 1801.7,730.5 1803.2,729.8 1804.6,733.4 1806.1,737.0 1807.5,737.0 1809.0,737.1 1810.4,733.4 1811.5,730.8 1811.9,729.7 1813.3,732.8 1814.8,735.8 1816.2,735.3 1817.7,734.8 1819.1,736.9 1820.6,739.0 1822.0,738.4 1823.5,737.9 1824.9,739.3 1826.4,740.6 1827.8,741.5 1829.3,742.4 1830.7,740.1 1830.8,740.0 1832.2,737.4 1833.6,740.6 1835.1,743.9 1836.5,745.6 1838.0,747.3 1839.4,746.1 1840.9,744.9 1842.3,746.3 1843.8,747.7 1845.2,748.4 1846.7,749.2 1848.1,747.9 1849.6,746.7 1851.0,747.0 1852.5,747.4 1853.9,748.1 1855.4,748.8 1856.8,747.6 1858.3,746.5 1859.6,749.4 1859.7,749.8 1861.2,753.0 1862.6,751.2 1864.1,749.3 1865.5,749.6 1867.0,749.9 1868.4,750.5 1869.9,751.2 1871.3,752.0 1872.8,752.7 1874.2,749.7 1875.7,746.6 1877.1,747.2 1878.6,747.8 1880.0,749.3 1881.5,750.8 1882.9,751.4 1884.4,752.1 1885.8,750.3 1887.3,748.6 1888.5,748.6 1888.7,748.7 1890.2,749.0 1891.6,752.0 1893.1,755.0 1894.5,755.5 1896.0,756.0 1897.4,755.5 1898.9,755.0 1900.3,755.6 1901.8,756.2 1903.2,756.4 1904.7,756.6 1906.1,756.6 1907.6,756.5 1907.7,756.5 1909.0,757.0 1910.5,757.6 1911.9,759.0 1913.4,760.4 1914.8,760.2 1916.3,760.0 1917.7,761.6 1919.2,763.1 1920.6,760.7 1922.1,758.3 1923.5,758.0 1925.0,757.8 1926.4,760.5 1927.0,761.6 1927.9,763.2 1929.3,761.6 1930.8,759.9 1932.2,760.2 1933.7,760.6 1935.1,761.4 1936.6,762.3 1938.0,760.9 1939.5,759.5 1940.9,759.2 1942.4,759.0 1943.8,761.1 1945.3,763.2 1946.7,759.8 1948.2,756.4 1949.6,760.3 1951.1,764.1 1952.5,761.4 1954.0,758.7 1954.5,759.8" fill="none" stroke="#008080" stroke-width="6.8" stroke-linejoin="round" stroke-linecap="butt"/>
<polyline points="214.0,1026.6 215.4,1024.7 216.9,1022.7 218.0,1024.5 218.3,1024.9 219.8,1026.6 221.2,1024.8 222.7,1022.9 224.1,1018.9 225.6,1015.0 227.0,1019.2 228.5,1023.5 229.9,1020.8 230.0,1020.7 231.4,1018.7 232.8,1020.1 234.3,1021.6 235.7,1024.1 237.2,1026.6 238.6,1023.5 240.1,1020.4 241.5,1017.8 243.0,1015.2 244.4,1016.0 245.9,1016.9 247.3,1020.3 248.8,1023.8 250.2,1018.9 251.7,1014.0 253.1,1017.5 254.6,1021.1 256.0,1021.3 257.5,1021.6 258.9,1018.7 260.4,1015.7 261.8,1018.4 263.3,1021.1 264.7,1021.9 266.2,1022.8 267.6,1020.2 269.1,1017.6 270.5,1018.3 272.0,1019.0 273.4,1021.1 274.9,1023.2 276.3,1019.6 277.8,1016.0 279.2,1016.9 280.7,1017.9 282.1,1021.6 283.6,1025.4 285.0,1023.7 286.5,1022.1 287.9,1019.2 289.4,1016.2 290.8,1019.2 291.0,1019.5 292.3,1022.3 293.7,1026.5 295.2,1030.7 296.6,1024.3 298.1,1017.9 299.5,1022.9 301.0,1027.9 302.4,1028.2 303.9,1028.5 305.3,1027.1 306.8,1025.5 308.2,1027.4 309.0,1028.4 309.7,1029.0 311.1,1026.2 312.6,1023.4 314.0,1027.6 315.5,1031.8 316.9,1031.8 318.4,1031.9 319.8,1026.4 321.3,1020.9 322.7,1021.9 324.2,1022.9 325.6,1023.3 327.1,1023.7 328.5,1021.8 330.0,1020.0 331.4,1021.6 332.9,1023.2 334.3,1020.1 335.8,1017.0 337.2,1019.8 338.7,1022.7 340.1,1020.6 341.6,1018.6 343.0,1018.7 344.5,1018.9 345.9,1019.6 347.4,1020.3 348.8,1020.9 350.3,1021.5 351.5,1018.1 351.7,1017.4 353.2,1013.4 354.6,1016.8 356.1,1020.1 357.5,1020.1 359.0,1020.0 360.4,1017.8 361.9,1015.6 363.3,1018.7 364.8,1021.8 366.2,1017.0 367.7,1012.2 369.1,1012.5 370.6,1012.7 372.0,1014.3 373.5,1016.0 374.9,1013.7 376.4,1011.3 377.8,1015.3 379.3,1019.2 380.7,1016.7 382.2,1014.1 383.6,1016.9 385.1,1019.8 386.5,1014.1 388.0,1008.3 389.4,1008.4 390.9,1008.4 392.3,1012.8 393.8,1017.2 395.2,1012.3 396.7,1007.3 397.0,1008.2 398.1,1011.5 399.6,1015.7 401.0,1011.9 402.5,1008.1 403.9,1010.2 405.4,1012.3 406.8,1014.0 408.3,1015.8 409.7,1013.3 411.2,1010.8 412.6,1006.3 414.1,1001.8 415.5,1005.3 417.0,1008.9 418.4,1012.1 419.9,1015.3 421.3,1013.4 422.8,1011.5 424.2,1012.4 425.7,1013.4 427.1,1012.1 428.6,1010.9 430.0,1011.2 431.5,1011.6 432.9,1010.6 434.4,1009.6 435.8,1007.9 437.3,1006.2 438.7,1009.2 440.2,1012.3 441.6,1011.9 442.4,1011.7 443.1,1011.3 444.5,1006.2 446.0,1001.0 447.4,1004.4 448.9,1007.8 450.3,1009.1 451.8,1010.4 453.2,1011.7 454.7,1013.0 456.1,1005.9 457.6,998.8 459.0,1001.2 460.5,1003.5 461.9,1003.8 463.4,1004.2 464.8,1004.1 466.3,1004.1 466.7,1003.2 467.7,1001.3 469.2,998.6 470.6,1001.3 472.1,1004.0 473.5,1002.4 475.0,1000.9 476.4,1001.9 477.9,1003.0 479.3,1001.3 480.8,999.6 482.2,1002.6 483.7,1005.7 485.1,1004.7 486.6,1003.6 488.0,1005.3 489.5,1007.1 490.9,1006.6 492.4,1006.2 493.8,1008.5 495.3,1010.8 496.7,1012.6 498.2,1014.4 499.6,1011.2 501.1,1007.9 502.5,1006.8 503.0,1006.5 504.0,1005.6 505.4,1006.6 506.9,1007.6 508.3,1007.0 509.8,1006.4 511.2,1004.1 512.7,1001.9 514.1,1005.2 515.6,1008.6 517.0,1007.6 518.5,1006.5 519.9,1009.3 521.4,1012.1 522.8,1010.1 524.3,1008.0 525.7,1010.1 527.2,1012.2 528.6,1013.4 530.1,1014.7 531.5,1010.6 533.0,1006.5 534.4,1006.9 535.9,1007.2 537.3,1006.8 538.8,1006.4 540.2,1006.5 541.7,1006.7 543.1,1009.2 544.6,1011.8 546.0,1008.1 547.5,1004.4 548.5,1005.2 548.9,1005.6 550.4,1006.8 551.8,1006.0 553.3,1005.2 554.7,1009.5 556.2,1013.9 557.6,1010.3 559.1,1006.7 560.5,1007.1 562.0,1007.5 563.4,1006.0 564.9,1004.5 566.3,1006.6 567.8,1008.8 569.2,1006.7 570.7,1004.6 572.1,1004.8 573.6,1004.9 575.0,1002.1 576.5,999.4 577.9,1000.1 579.4,1000.8 580.8,1004.4 582.3,1008.0 583.7,1009.1 585.2,1010.2 586.6,1005.3 588.1,1000.4 589.5,1004.0 591.0,1007.6 592.4,1007.7 593.9,1007.7 594.0,1008.1 595.3,1013.5 596.8,1019.4 598.2,1011.5 599.7,1003.7 601.1,1004.5 602.6,1005.4 604.0,1004.9 605.5,1004.4 606.9,1008.4 608.4,1012.3 609.8,1013.0 611.3,1013.7 612.7,1011.3 614.2,1009.0 615.6,1012.8 617.1,1016.6 618.5,1017.9 620.0,1019.3 621.4,1014.4 622.9,1009.4 624.0,1011.1 624.3,1011.6 625.8,1013.6 627.2,1012.1 628.7,1010.6 630.1,1009.8 631.6,1008.9 633.0,1009.2 634.5,1009.6 635.9,1010.0 637.4,1010.5 638.8,1008.4 640.3,1006.3 641.7,1008.7 643.2,1011.1 644.6,1012.9 646.1,1014.6 647.5,1011.2 649.0,1007.7 650.4,1008.5 651.9,1009.4 653.3,1008.6 654.8,1007.8 656.2,1010.4 657.7,1013.0 659.1,1012.0 660.6,1011.0 662.0,1013.1 663.5,1015.2 664.9,1012.7 666.4,1010.2 667.8,1007.9 669.3,1005.6 670.7,1009.7 672.2,1013.7 673.6,1012.0 675.1,1010.3 676.5,1013.2 678.0,1016.0 679.4,1015.2 680.9,1014.3 682.3,1007.6 683.8,1001.0 685.0,1002.0 685.2,1002.3 686.7,1003.6 688.1,1007.7 689.6,1011.8 691.0,1010.2 692.5,1008.7 693.9,1005.8 695.4,1002.9 696.8,1006.4 698.3,1009.8 699.7,1013.6 701.2,1017.3 702.6,1016.0 704.1,1014.8 705.5,1011.8 707.0,1008.8 708.4,1011.3 709.9,1013.7 711.3,1017.2 712.8,1020.7 714.2,1016.4 715.7,1012.1 717.1,1016.1 718.6,1020.1 720.0,1015.2 721.5,1010.3 722.9,1020.2 724.4,1030.1 725.8,1024.8 727.3,1019.6 728.7,1017.6 730.2,1015.7 731.6,1015.6 733.1,1015.5 734.5,1014.8 736.0,1014.1 737.4,1012.2 738.9,1010.4 740.3,1014.3 741.8,1018.2 743.2,1018.9 744.7,1019.5 745.5,1019.9 746.1,1020.2 747.6,1021.0 749.0,1018.6 750.5,1016.2 751.9,1016.1 753.4,1015.9 754.8,1014.0 756.3,1012.2 757.7,1012.9 759.2,1013.7 760.6,1012.3 762.1,1011.0 763.5,1015.0 765.0,1019.1 766.4,1016.5 767.9,1014.0 769.3,1017.6 770.8,1021.3 772.2,1018.5 773.7,1015.7 775.1,1020.0 776.6,1024.3 778.0,1024.8 779.5,1025.2 780.0,1025.2 780.9,1025.2 782.4,1025.1 783.8,1024.3 785.3,1023.5 786.7,1020.5 788.2,1017.6 789.6,1017.6 791.1,1017.5 792.5,1016.6 794.0,1015.7 795.4,1017.8 796.9,1019.9 798.3,1022.6 799.8,1025.3 801.2,1019.7 802.7,1014.1 804.1,1021.1 805.6,1028.1 807.0,1022.1 808.5,1016.1 809.9,1014.8 811.4,1013.6 812.8,1016.6 814.3,1019.5 815.7,1021.0 817.2,1022.4 818.6,1018.8 820.1,1015.1 821.5,1014.5 823.0,1013.9 824.4,1019.4 825.9,1024.9 827.3,1019.1 828.8,1013.4 830.2,1017.6 831.7,1021.7 833.1,1020.0 834.6,1018.3 836.0,1017.2 837.5,1016.1 838.9,1017.0 840.4,1017.8 840.6,1017.5 841.8,1015.6 843.3,1013.4 844.7,1013.4 846.2,1013.4 847.6,1016.4 849.1,1019.3 850.5,1016.7 852.0,1014.1 853.4,1014.7 854.9,1015.4 856.3,1019.9 857.8,1024.4 859.2,1025.2 860.7,1026.0 862.1,1024.8 863.6,1023.5 865.0,1023.2 866.5,1022.9 867.9,1020.7 869.4,1018.5 870.8,1019.3 872.3,1020.1 873.7,1018.5 875.2,1017.0 876.6,1013.0 878.1,1009.0 879.5,1015.1 881.0,1021.2 882.4,1021.4 883.9,1021.5 885.3,1023.2 886.8,1024.8 888.2,1020.6 889.7,1016.3 891.1,1021.1 892.6,1025.9 894.0,1022.7 895.5,1019.4 896.9,1018.1 898.4,1016.8 899.8,1018.9 901.0,1020.5 901.3,1021.0 902.7,1025.3 904.2,1029.6 905.6,1026.0 907.1,1022.4 908.5,1023.4 910.0,1024.4 911.4,1021.9 912.9,1019.4 914.3,1022.2 915.8,1025.1 917.2,1026.2 918.7,1027.3 920.1,1023.7 921.6,1020.1 923.0,1022.8 924.5,1025.6 925.9,1022.2 927.4,1018.8 928.8,1022.0 930.3,1025.3 931.7,1022.0 933.2,1018.6 934.6,1022.5 936.1,1026.5 937.5,1025.8 939.0,1025.1 940.4,1022.9 941.9,1020.8 943.3,1023.9 944.8,1027.0 946.2,1024.4 947.7,1021.8 949.1,1024.2 950.6,1026.6 952.0,1024.5 953.5,1022.5 954.9,1025.5 956.4,1028.5 957.8,1026.4 959.3,1024.3 960.7,1028.3 962.0,1031.8 962.2,1032.4 963.6,1030.4 965.1,1028.4 966.5,1028.5 968.0,1028.7 969.4,1024.9 970.9,1021.1 972.3,1019.6 973.8,1018.1 975.2,1020.6 976.7,1023.1 978.1,1028.3 979.6,1033.5 981.0,1027.9 982.5,1022.4 983.9,1026.7 985.4,1030.9 986.8,1031.0 988.3,1031.0 989.7,1027.3 991.2,1023.5 992.6,1024.2 994.1,1024.9 995.5,1027.9 997.0,1030.9 998.4,1027.2 999.9,1023.5 1001.3,1023.7 1002.8,1023.9 1004.2,1023.5 1005.7,1023.1 1007.1,1024.4 1008.6,1025.6 1010.0,1025.2 1011.5,1024.8 1012.9,1027.5 1014.4,1030.1 1015.8,1028.6 1017.3,1027.0 1018.7,1028.4 1020.2,1029.8 1021.6,1027.2 1022.4,1025.8 1023.1,1024.6 1024.5,1029.8 1026.0,1035.1 1027.4,1029.9 1028.9,1024.7 1030.3,1024.7 1031.8,1024.6 1033.2,1023.4 1034.7,1022.1 1036.1,1020.4 1037.6,1018.6 1039.0,1020.3 1040.5,1022.0 1041.9,1024.6 1043.4,1027.3 1044.8,1024.5 1046.3,1021.7 1047.7,1025.4 1049.2,1029.1 1050.6,1024.2 1052.1,1019.3 1053.5,1019.3 1055.0,1019.3 1056.4,1023.3 1057.9,1027.2 1059.3,1027.4 1060.8,1027.6 1062.2,1024.7 1063.7,1021.7 1065.1,1026.2 1066.6,1030.6 1068.0,1031.3 1069.5,1031.9 1070.9,1029.9 1072.4,1027.9 1073.8,1024.7 1075.3,1021.4 1076.7,1026.5 1078.2,1031.6 1079.6,1028.6 1081.1,1025.5 1082.5,1025.8 1083.0,1025.9 1084.0,1026.0 1085.4,1027.2 1086.9,1028.4 1088.3,1026.0 1089.8,1023.5 1091.2,1027.8 1092.7,1032.1 1094.1,1027.8 1095.6,1023.4 1097.0,1026.7 1098.5,1029.9 1099.9,1029.2 1101.4,1028.6 1102.8,1030.4 1104.3,1032.3 1105.7,1029.7 1107.2,1027.0 1108.6,1027.6 1110.1,1028.2 1111.5,1025.6 1113.0,1023.0 1114.4,1023.2 1115.9,1023.3 1117.3,1022.5 1118.8,1021.6 1120.2,1024.2 1121.7,1026.8 1123.1,1023.9 1124.6,1021.0 1126.0,1025.1 1127.5,1029.3 1128.9,1026.0 1130.4,1022.6 1131.8,1020.4 1133.3,1018.1 1134.7,1019.1 1136.2,1020.0 1137.6,1023.5 1139.1,1027.1 1140.5,1023.7 1142.0,1020.3 1143.4,1022.4 1143.6,1022.6 1144.9,1024.5 1146.3,1017.1 1147.8,1009.6 1149.2,1016.7 1150.7,1023.8 1152.1,1024.4 1153.6,1025.0 1155.0,1024.4 1156.5,1023.9 1157.9,1024.4 1159.4,1024.9 1160.8,1021.4 1162.3,1017.8 1163.7,1016.5 1165.2,1015.1 1166.6,1015.8 1168.1,1016.4 1169.5,1020.7 1171.0,1024.9 1172.4,1024.0 1173.9,1023.1 1175.3,1023.9 1176.8,1024.7 1178.2,1021.9 1179.7,1019.2 1181.1,1021.9 1182.6,1024.6 1184.0,1019.9 1185.5,1015.2 1186.9,1019.0 1188.4,1022.9 1189.8,1020.0 1191.3,1017.1 1192.7,1018.2 1194.2,1019.4 1195.6,1021.6 1197.1,1023.7 1198.5,1024.1 1200.0,1024.5 1201.4,1022.4 1202.9,1020.3 1204.0,1020.0 1204.3,1019.9 1205.8,1019.5 1207.2,1022.8 1208.7,1026.2 1210.1,1025.5 1211.6,1024.9 1213.0,1021.5 1214.5,1018.0 1215.9,1019.9 1217.4,1021.8 1218.8,1020.8 1220.3,1019.8 1221.7,1022.1 1223.2,1024.4 1224.6,1023.3 1226.1,1022.3 1227.5,1022.2 1229.0,1022.1 1230.4,1021.4 1231.9,1020.7 1233.3,1019.4 1234.8,1018.2 1236.2,1021.4 1237.7,1024.6 1239.1,1023.2 1240.6,1021.8 1242.0,1016.4 1243.5,1010.9 1244.9,1014.2 1246.4,1017.5 1247.8,1019.2 1249.3,1021.0 1250.7,1019.0 1252.2,1016.9 1253.6,1016.5 1255.1,1016.1 1256.5,1016.6 1258.0,1017.2 1259.4,1019.1 1260.9,1021.0 1262.3,1018.3 1263.8,1015.7 1265.0,1017.8 1265.2,1018.2 1266.7,1020.5 1268.1,1022.1 1269.6,1023.7 1271.0,1022.5 1272.5,1021.2 1273.9,1020.9 1275.4,1020.5 1276.8,1017.7 1278.3,1014.9 1279.7,1017.2 1281.2,1019.5 1282.6,1016.7 1284.1,1014.0 1285.5,1015.2 1287.0,1016.4 1288.4,1012.0 1289.9,1007.6 1291.3,1011.8 1292.8,1016.0 1294.2,1011.1 1295.0,1008.5 1295.7,1006.1 1297.1,1007.9 1298.6,1009.7 1300.0,1011.3 1301.5,1013.0 1302.9,1010.5 1304.4,1008.1 1305.8,1006.8 1307.3,1005.5 1308.7,1005.7 1310.2,1006.0 1311.6,1010.5 1313.1,1015.0 1314.5,1012.3 1316.0,1009.6 1317.4,1008.3 1318.9,1007.1 1320.3,1004.2 1321.8,1001.2 1323.2,1001.3 1324.7,1001.4 1325.5,1002.3 1326.1,1003.1 1327.6,1004.8 1329.0,1004.6 1330.5,1004.4 1331.9,1001.1 1333.4,997.8 1334.8,997.5 1336.3,997.1 1337.7,999.5 1339.2,1001.8 1340.0,1002.0 1340.6,1002.2 1342.1,1002.7 1343.5,1000.3 1345.0,998.0 1346.4,995.2 1347.9,992.3 1349.3,997.5 1350.8,1002.5 1352.2,999.1 1353.0,997.1 1353.7,994.4 1355.1,992.1 1356.6,989.3 1358.0,982.4 1359.5,975.4 1360.9,973.8 1361.0,973.8 1362.4,972.5 1363.8,969.7 1365.3,966.9 1366.7,964.5 1368.2,962.7 1368.3,962.4 1369.6,963.8 1371.1,966.2 1372.3,966.6 1372.5,966.4 1374.0,964.3 1375.4,963.1 1376.9,961.8 1378.3,962.8 1379.8,963.8 1380.4,963.9 1381.2,961.6 1382.7,956.9 1384.1,951.0 1385.6,944.8 1386.9,938.0 1387.0,936.9 1388.5,925.6 1389.9,915.5 1391.4,904.8 1391.7,902.5 1392.8,889.4 1394.3,871.8 1395.7,855.5 1395.8,855.0 1397.2,846.5 1398.6,837.2 1400.1,829.8 1400.1,829.8 1401.5,834.6 1403.0,840.4 1404.4,845.0 1404.6,845.6 1405.9,857.1 1407.3,872.9 1408.7,887.8 1408.8,889.0 1410.2,906.0 1411.7,923.3 1412.7,935.5 1413.1,941.0 1414.6,959.3 1416.0,976.1 1416.8,983.4 1417.5,984.2 1418.9,988.2 1420.4,992.1 1421.8,994.9 1423.3,997.6 1424.0,998.8 1424.7,999.7 1426.2,1001.4 1427.6,1002.4 1429.1,1003.3 1430.5,1007.7 1432.0,1012.0 1433.4,1014.0 1433.7,1014.3 1434.9,1015.3 1436.3,1013.0 1437.8,1010.7 1439.2,1010.6 1440.7,1010.5 1442.1,1011.0 1443.6,1011.4 1445.0,1012.8 1446.5,1014.2 1447.9,1018.0 1449.4,1021.7 1450.0,1020.6 1450.8,1018.2 1452.3,1014.2 1453.7,1016.7 1455.2,1019.0 1456.6,1012.0 1458.1,1005.0 1459.5,1003.9 1459.6,1003.9 1461.0,1002.3 1462.4,999.6 1463.9,996.8 1465.3,993.7 1466.0,992.1 1466.8,991.9 1468.2,994.5 1469.7,997.0 1471.1,1000.0 1472.6,1003.0 1474.0,998.4 1475.5,993.7 1476.9,996.0 1477.4,996.7 1478.4,997.0 1479.8,996.9 1481.3,996.5 1482.7,996.0 1484.2,995.4 1485.5,988.3 1485.6,987.4 1487.1,979.1 1488.5,972.7 1490.0,966.3 1491.1,961.7 1491.4,960.5 1492.9,955.6 1494.3,949.3 1495.8,942.8 1497.2,937.5 1497.6,936.1 1498.7,927.7 1500.1,915.4 1501.6,902.8 1501.6,902.8 1503.0,888.6 1504.5,874.1 1505.7,862.1 1505.9,859.1 1507.4,841.0 1508.8,823.2 1508.9,822.5 1510.3,804.5 1511.3,790.9 1511.7,783.6 1513.2,759.5 1514.5,737.3 1514.6,734.7 1516.1,710.1 1517.5,685.2 1518.7,665.3 1519.0,659.7 1520.4,633.5 1520.6,630.8 1521.9,604.8 1521.9,604.8 1523.0,584.5 1523.3,586.4 1524.8,604.0 1524.8,604.0 1526.2,626.1 1526.6,631.4 1527.7,644.9 1529.1,661.2 1529.6,666.5 1530.6,680.9 1532.0,702.5 1533.5,724.7 1534.2,736.1 1534.9,751.4 1536.4,781.8 1536.8,789.8 1537.8,806.8 1538.8,821.9 1539.3,829.5 1540.7,852.7 1542.0,872.0 1542.2,874.3 1543.6,888.0 1545.1,900.8 1546.0,909.2 1546.5,912.1 1548.0,920.6 1549.4,927.7 1550.9,934.6 1551.7,937.3 1552.3,938.7 1553.8,942.1 1555.2,949.5 1556.7,956.9 1557.4,959.3 1558.1,960.9 1559.6,963.5 1561.0,966.0 1562.5,968.5 1563.9,970.2 1564.6,971.1 1565.4,971.0 1566.8,968.9 1568.3,966.7 1569.7,968.4 1571.1,968.8 1571.2,968.6 1572.6,963.0 1574.1,957.0 1575.5,952.8 1576.0,951.4 1577.0,942.7 1578.4,928.3 1579.9,913.0 1580.8,903.3 1581.3,895.2 1582.8,873.1 1584.0,854.8 1584.2,851.1 1585.7,829.7 1587.1,808.2 1587.3,806.1 1588.6,792.6 1588.9,789.5 1590.0,771.0 1591.3,752.7 1591.5,754.2 1592.9,765.9 1594.4,779.9 1595.4,789.7 1595.8,794.2 1597.3,808.9 1598.6,822.4 1598.7,824.7 1600.2,847.9 1601.6,871.5 1602.6,886.6 1603.1,893.5 1604.5,914.7 1606.0,935.4 1606.7,944.8 1607.4,952.3 1608.9,966.5 1610.3,979.1 1611.5,988.5 1611.8,989.4 1613.2,993.0 1614.7,996.4 1616.1,999.0 1617.6,1001.3 1619.0,1004.9 1619.6,1006.1 1620.5,1006.8 1621.9,1007.1 1623.4,1007.4 1624.8,1009.6 1626.3,1011.7 1627.7,1010.7 1629.2,1009.6 1630.6,1011.3 1630.9,1011.6 1632.1,1012.6 1633.5,1012.2 1635.0,1011.8 1636.4,1009.5 1637.9,1007.2 1639.3,1005.4 1640.8,1003.5 1642.2,1003.6 1643.7,1003.7 1645.1,1003.8 1646.6,1003.8 1648.0,1005.7 1648.0,1005.7 1649.5,1007.8 1650.9,1010.2 1652.4,1012.5 1653.8,1008.4 1655.3,1004.2 1656.7,1007.3 1658.2,1010.5 1659.6,1008.8 1661.1,1007.2 1662.5,1010.0 1664.0,1012.9 1665.4,1014.8 1666.9,1016.8 1668.3,1014.4 1669.8,1012.1 1671.2,1010.7 1672.7,1009.3 1674.1,1009.6 1675.6,1009.9 1677.0,1011.5 1677.0,1011.5 1678.5,1013.3 1679.9,1010.4 1681.4,1007.6 1682.8,1006.9 1684.3,1006.3 1685.7,1008.5 1687.2,1010.7 1688.6,1013.8 1690.1,1017.0 1691.5,1012.8 1693.0,1008.5 1694.4,1012.3 1695.9,1016.1 1696.0,1016.1 1697.3,1015.5 1698.8,1014.8 1700.2,1012.4 1701.7,1010.0 1703.1,1008.6 1704.6,1007.2 1706.0,1005.2 1707.5,1003.2 1708.9,1003.8 1710.4,1004.5 1711.8,1006.7 1713.3,1009.0 1714.7,1009.8 1715.4,1010.2 1716.2,1010.6 1717.6,1007.6 1719.1,1004.5 1720.5,1004.3 1722.0,1004.0 1723.4,1003.2 1724.9,1002.5 1726.3,1008.4 1727.8,1014.3 1729.2,1006.5 1730.7,998.6 1732.1,998.1 1733.6,997.6 1734.6,1000.8 1735.0,1002.3 1736.5,1007.2 1737.9,1002.9 1739.4,998.5 1740.8,1002.6 1742.3,1006.7 1743.7,1003.0 1745.2,999.3 1746.6,1005.0 1748.1,1010.7 1749.5,1009.2 1751.0,1007.7 1752.4,1004.0 1753.8,1000.6 1753.9,1000.3 1755.3,999.7 1756.8,998.8 1758.2,995.3 1759.7,991.8 1761.1,993.0 1762.6,994.1 1764.0,990.1 1765.5,986.1 1766.9,983.0 1767.3,982.3 1768.4,979.8 1769.8,979.4 1771.3,978.9 1772.7,976.3 1774.2,973.9 1775.6,971.2 1776.0,970.7 1777.1,970.7 1778.5,970.9 1780.0,971.3 1781.4,975.0 1782.9,978.8 1784.3,977.0 1785.8,975.3 1787.2,976.1 1788.7,976.9 1790.1,979.1 1791.6,981.3 1792.3,983.0 1793.0,984.4 1794.5,987.3 1795.9,984.7 1797.4,982.2 1798.8,981.9 1800.3,981.7 1801.7,979.2 1803.2,976.6 1804.6,979.3 1806.1,982.1 1807.5,982.6 1807.7,982.7 1809.0,983.5 1810.4,989.3 1811.9,995.1 1813.3,988.3 1814.8,981.6 1816.2,984.8 1817.7,988.1 1819.1,989.7 1820.6,991.3 1821.0,991.0 1822.0,990.0 1823.5,988.5 1824.9,988.4 1826.4,988.2 1827.8,992.1 1829.3,996.0 1830.7,998.1 1832.2,1000.1 1833.6,1000.0 1835.1,999.9 1836.5,998.1 1838.0,996.4 1839.4,995.9 1840.4,995.5 1840.9,995.3 1842.3,997.6 1843.8,1000.0 1845.2,995.5 1846.7,991.1 1848.1,992.9 1849.6,994.6 1851.0,999.3 1852.5,1004.1 1853.9,1002.1 1855.4,1000.2 1856.8,999.8 1858.3,999.4 1859.7,998.9 1861.2,998.3 1862.6,997.3 1864.1,996.3 1865.5,996.3 1867.0,996.4 1868.4,999.4 1869.0,1000.5 1869.9,1002.5 1871.3,1002.9 1872.8,1003.3 1874.2,1003.9 1875.7,1004.5 1877.1,999.3 1878.6,994.1 1880.0,1002.0 1881.5,1009.9 1882.9,1009.7 1884.4,1009.4 1885.8,1011.4 1887.3,1013.4 1888.5,1010.4 1888.7,1009.7 1890.2,1006.0 1891.6,1003.2 1893.1,1000.5 1894.5,1002.6 1896.0,1004.8 1897.4,1006.0 1898.9,1007.2 1900.3,1013.4 1901.8,1019.6 1903.2,1014.5 1904.7,1009.5 1906.1,1010.6 1907.6,1011.6 1907.7,1011.9 1909.0,1015.4 1910.5,1019.1 1911.9,1019.9 1913.4,1020.8 1914.8,1021.9 1916.3,1023.2 1917.7,1021.5 1919.2,1019.8 1920.6,1025.3 1922.1,1030.9 1923.5,1029.1 1925.0,1027.3 1926.4,1025.8 1927.0,1025.2 1927.9,1024.0 1929.3,1026.9 1930.8,1029.9 1932.2,1026.8 1933.7,1023.7 1935.1,1024.5 1936.6,1025.3 1938.0,1026.8 1939.5,1028.3 1940.9,1027.7 1942.3,1027.0 1942.4,1026.9 1943.8,1028.1 1945.3,1029.2 1946.7,1028.6 1948.2,1027.9 1949.6,1027.9 1951.1,1027.9 1952.5,1026.7 1954.0,1025.5 1954.5,1026.7" fill="none" stroke="#920000" stroke-width="6.8" stroke-linejoin="round" stroke-linecap="butt"/>
<polyline points="214.0,1297.9 215.4,1295.9 216.9,1293.9 218.0,1294.2 218.3,1294.2 219.8,1294.4 221.2,1295.4 222.7,1296.5 224.1,1295.8 225.6,1295.2 227.0,1294.6 228.5,1294.0 229.9,1292.4 231.4,1290.7 232.8,1289.5 234.3,1288.4 235.7,1290.2 237.2,1292.1 238.6,1290.5 240.1,1288.9 241.5,1290.7 243.0,1292.5 244.4,1291.6 245.9,1290.8 247.3,1288.8 248.8,1286.9 250.2,1288.2 251.7,1289.5 253.1,1289.9 254.6,1290.4 256.0,1289.4 257.5,1288.5 258.9,1286.9 260.4,1285.3 260.6,1285.5 261.8,1287.0 263.3,1288.8 264.7,1289.2 266.2,1289.6 267.6,1290.6 269.1,1291.6 270.5,1292.8 272.0,1294.1 273.4,1290.9 274.9,1287.7 276.3,1288.6 277.8,1289.6 279.2,1291.6 280.7,1293.6 282.1,1290.4 283.6,1287.3 285.0,1291.4 286.5,1295.4 287.9,1293.3 289.4,1291.2 290.8,1292.1 292.3,1293.0 293.7,1296.0 295.2,1299.0 296.6,1297.0 297.0,1296.5 298.1,1294.7 299.5,1294.3 301.0,1293.9 302.4,1294.6 303.9,1295.4 305.3,1294.6 306.8,1293.8 308.2,1293.1 309.7,1292.3 311.1,1293.5 312.6,1294.7 314.0,1297.4 315.5,1300.1 316.9,1298.2 318.4,1296.3 319.8,1295.4 321.3,1294.6 322.7,1294.2 324.2,1293.8 325.6,1294.5 327.1,1295.2 328.5,1294.8 330.0,1294.4 331.4,1292.1 332.9,1289.7 334.3,1291.6 335.8,1293.5 337.2,1292.7 338.7,1291.9 340.1,1294.3 341.6,1296.6 343.0,1293.6 344.5,1290.6 345.9,1292.7 347.4,1294.7 348.8,1291.0 350.3,1287.2 351.5,1289.0 351.7,1289.3 353.2,1291.3 354.6,1289.5 356.1,1287.8 357.5,1287.3 359.0,1286.8 360.4,1290.3 361.9,1293.7 363.3,1289.6 364.8,1285.6 366.2,1286.6 367.7,1287.6 369.1,1286.6 370.6,1285.5 372.0,1286.9 373.5,1288.3 374.9,1287.8 376.4,1287.4 377.8,1283.5 379.3,1279.6 380.7,1283.7 382.2,1287.7 383.6,1285.5 385.1,1283.3 386.5,1286.9 388.0,1290.6 389.4,1288.7 390.9,1286.7 392.3,1286.6 393.8,1286.4 395.2,1281.2 396.7,1276.0 397.0,1277.2 398.1,1281.8 399.6,1287.6 401.0,1284.7 402.5,1281.9 403.9,1279.5 405.4,1277.0 406.8,1279.1 408.3,1281.2 409.7,1282.2 411.2,1283.3 412.6,1278.7 414.1,1274.1 415.5,1277.6 417.0,1281.1 418.4,1278.7 419.9,1276.3 421.3,1275.6 422.8,1274.9 424.2,1274.8 425.7,1274.6 427.0,1273.8 427.1,1273.7 428.6,1272.9 430.0,1274.2 431.5,1275.6 432.9,1275.4 434.4,1275.3 435.8,1276.3 437.3,1277.2 438.7,1277.6 440.2,1277.9 441.6,1274.7 443.1,1271.6 444.5,1273.9 446.0,1276.2 447.4,1272.7 448.9,1269.2 450.3,1271.7 451.8,1274.1 453.2,1271.4 454.7,1268.7 456.1,1269.3 457.6,1269.9 459.0,1271.5 460.5,1273.0 461.9,1270.9 463.4,1268.8 464.8,1270.4 466.3,1272.1 467.7,1267.0 469.2,1261.9 470.6,1265.0 472.1,1268.0 472.7,1268.7 473.5,1270.0 475.0,1272.1 476.4,1273.8 477.9,1275.6 479.3,1272.1 480.8,1268.6 482.2,1272.9 483.7,1277.3 485.1,1275.8 486.6,1274.3 488.0,1277.6 489.5,1281.0 490.9,1277.7 492.4,1274.4 493.8,1274.6 495.3,1274.7 496.7,1276.4 498.2,1278.0 499.6,1276.4 501.1,1274.8 502.5,1277.0 503.0,1277.7 504.0,1279.2 505.4,1279.5 506.9,1279.7 508.3,1282.2 509.8,1284.8 511.2,1283.9 512.7,1283.0 514.1,1281.3 515.6,1279.5 517.0,1280.0 518.5,1280.4 519.9,1281.5 521.4,1282.5 522.8,1281.4 524.3,1280.4 525.7,1280.7 527.2,1281.1 528.6,1290.8 530.1,1300.4 531.5,1293.5 533.0,1286.6 533.0,1286.6 534.4,1289.8 535.9,1293.0 537.3,1290.1 538.8,1287.2 540.2,1287.8 541.7,1288.3 543.1,1286.5 544.6,1284.7 546.0,1289.1 547.5,1293.5 548.9,1291.2 550.4,1288.8 551.8,1291.9 553.3,1295.0 554.7,1291.6 556.2,1288.2 557.6,1291.2 559.1,1294.2 560.5,1294.5 562.0,1294.9 563.4,1290.6 564.9,1286.2 566.3,1289.2 567.8,1292.1 569.2,1290.0 570.7,1287.9 572.1,1287.8 573.6,1287.6 575.0,1289.6 576.5,1291.5 577.9,1293.8 579.4,1296.1 580.8,1295.7 582.3,1295.4 583.7,1293.0 585.2,1290.6 586.6,1294.1 588.1,1297.6 589.5,1296.4 591.0,1295.2 592.4,1293.6 593.9,1292.0 594.0,1291.9 595.3,1290.7 596.8,1289.5 598.2,1291.1 599.7,1292.7 601.1,1298.0 602.6,1303.2 604.0,1296.8 605.5,1290.4 606.9,1291.7 608.4,1293.0 609.8,1292.1 611.3,1291.2 612.7,1294.7 614.2,1298.2 615.6,1299.0 617.1,1299.8 618.5,1299.3 620.0,1298.8 621.4,1299.9 622.9,1301.0 624.3,1298.1 625.8,1295.2 627.2,1298.0 628.7,1300.7 630.1,1297.2 631.6,1293.6 633.0,1297.2 634.5,1300.9 635.9,1300.9 637.4,1300.9 638.8,1297.9 639.4,1296.8 640.3,1294.7 641.7,1296.9 643.2,1299.0 644.6,1295.8 646.1,1292.6 647.5,1291.8 649.0,1291.1 650.4,1290.9 651.9,1290.6 653.3,1290.8 654.8,1291.0 656.2,1290.6 657.7,1290.3 659.1,1291.5 660.6,1292.8 662.0,1295.3 663.5,1297.7 664.9,1294.5 666.4,1291.2 667.8,1288.8 669.3,1286.4 670.7,1289.6 672.2,1292.9 673.6,1291.3 675.1,1289.7 676.5,1289.9 678.0,1290.2 679.4,1290.4 680.9,1290.7 682.3,1290.5 683.8,1290.4 685.0,1288.9 685.2,1288.6 686.7,1287.2 688.1,1288.1 689.6,1289.0 691.0,1291.0 692.5,1293.0 693.9,1291.4 695.4,1289.8 696.8,1290.3 698.3,1290.8 699.7,1292.0 701.2,1293.1 702.6,1293.6 704.1,1294.1 705.5,1293.3 707.0,1292.6 708.4,1294.2 709.9,1295.8 711.3,1295.2 712.8,1294.6 714.2,1292.9 715.0,1292.0 715.7,1291.0 717.1,1293.9 718.6,1296.7 720.0,1294.4 721.5,1292.1 722.9,1297.9 724.4,1303.7 725.8,1299.5 727.3,1295.3 728.7,1294.3 730.2,1293.4 731.6,1295.0 733.1,1296.6 734.5,1297.5 736.0,1298.3 737.4,1298.3 738.9,1298.4 740.3,1296.5 741.8,1294.6 743.2,1295.7 744.7,1296.8 745.5,1296.5 746.1,1296.3 747.6,1295.9 749.0,1295.2 750.5,1294.4 751.9,1292.2 753.4,1290.1 754.8,1292.6 756.3,1295.2 757.7,1291.5 759.2,1287.8 760.6,1290.6 762.1,1293.4 763.5,1297.0 765.0,1300.6 766.4,1299.0 767.9,1297.5 769.3,1297.4 770.8,1297.2 772.2,1296.2 773.7,1295.1 775.1,1295.3 775.8,1295.4 776.6,1295.4 778.0,1295.5 779.5,1295.7 780.9,1294.5 782.4,1293.4 783.8,1291.9 785.3,1290.5 786.7,1295.3 788.2,1300.1 789.6,1300.9 791.1,1301.7 792.5,1298.2 794.0,1294.6 795.4,1296.6 796.9,1298.5 798.3,1295.4 799.8,1292.3 800.0,1292.6 801.2,1294.5 802.7,1296.6 804.1,1293.8 805.6,1290.9 807.0,1294.1 808.5,1297.3 809.9,1295.8 811.4,1294.2 812.8,1292.0 814.3,1289.8 815.7,1292.3 817.2,1294.8 818.6,1296.2 820.1,1297.6 821.5,1294.9 823.0,1292.3 824.4,1292.0 825.5,1291.9 825.9,1291.9 827.3,1292.0 828.8,1292.2 830.2,1292.4 831.7,1292.7 833.1,1294.4 834.6,1296.2 836.0,1296.4 837.5,1296.5 838.9,1291.5 840.4,1286.5 841.8,1291.6 843.3,1296.7 844.7,1294.7 846.2,1292.7 847.6,1295.6 849.1,1298.5 850.5,1296.8 852.0,1295.1 853.4,1296.0 854.9,1296.8 856.3,1294.7 857.8,1292.6 859.2,1291.5 860.7,1290.3 862.1,1292.8 863.6,1295.3 865.0,1296.4 866.5,1297.6 867.9,1297.4 869.4,1297.1 870.8,1297.2 871.0,1297.2 872.3,1297.2 873.7,1296.3 875.2,1295.4 876.6,1296.0 878.1,1296.6 879.5,1294.2 881.0,1291.8 882.4,1292.7 883.9,1293.6 885.3,1291.3 886.8,1289.1 888.2,1291.2 889.7,1293.4 891.1,1292.8 892.6,1292.3 894.0,1292.7 895.5,1293.2 896.9,1294.5 898.4,1295.9 899.8,1294.4 901.3,1292.9 902.7,1288.2 904.2,1283.6 905.6,1289.9 907.1,1296.2 908.5,1294.3 910.0,1292.4 910.0,1292.4 911.4,1293.5 912.9,1294.6 914.3,1292.5 915.8,1290.3 917.2,1293.0 918.7,1295.6 920.1,1296.9 921.6,1298.2 923.0,1291.3 924.5,1284.4 925.9,1291.4 927.4,1298.3 928.8,1295.4 930.3,1292.4 931.7,1292.9 933.2,1293.4 934.6,1294.8 936.1,1296.2 937.5,1299.6 939.0,1303.0 940.4,1297.4 941.9,1291.8 943.3,1293.8 944.8,1295.8 946.2,1297.0 946.7,1297.4 947.7,1298.1 949.1,1299.1 950.6,1300.1 952.0,1299.1 953.5,1298.0 954.9,1298.9 956.4,1299.8 957.8,1297.7 959.3,1295.6 960.7,1298.4 962.2,1301.2 963.6,1301.7 965.1,1302.2 966.5,1299.0 968.0,1295.8 969.4,1296.4 970.9,1296.9 972.3,1298.8 973.8,1300.7 975.2,1300.6 976.7,1300.6 978.1,1301.0 979.6,1301.4 981.0,1298.8 982.5,1296.2 983.9,1297.6 985.4,1298.9 986.8,1298.0 988.3,1297.2 989.7,1300.8 991.2,1304.4 992.6,1302.3 994.1,1300.2 995.5,1299.6 997.0,1299.1 998.4,1298.5 999.9,1298.0 1001.3,1299.4 1002.8,1300.8 1004.2,1302.6 1005.7,1304.5 1007.0,1300.8 1007.1,1300.4 1008.6,1296.2 1010.0,1298.6 1011.5,1301.1 1012.9,1301.6 1014.4,1302.1 1015.8,1304.3 1017.3,1306.4 1018.7,1304.3 1020.2,1302.3 1021.6,1303.2 1023.1,1304.1 1024.5,1302.0 1026.0,1300.0 1027.4,1297.7 1028.9,1295.4 1030.3,1295.3 1031.8,1295.1 1033.2,1296.1 1034.7,1297.1 1036.1,1298.2 1037.6,1299.4 1039.0,1298.7 1040.5,1297.9 1041.9,1297.6 1043.4,1297.2 1044.8,1300.5 1046.3,1303.9 1047.7,1297.4 1049.2,1290.9 1050.6,1292.9 1052.1,1294.8 1052.7,1296.9 1053.5,1299.9 1055.0,1305.0 1056.4,1301.8 1057.9,1298.5 1059.3,1297.0 1060.8,1295.4 1062.2,1294.6 1063.7,1293.8 1065.1,1296.7 1066.6,1299.5 1068.0,1299.2 1069.5,1299.0 1070.9,1299.1 1072.4,1299.1 1073.8,1293.9 1075.3,1288.6 1076.7,1292.7 1078.2,1296.7 1079.6,1296.1 1081.1,1295.4 1082.5,1296.4 1084.0,1297.3 1085.4,1294.1 1086.9,1290.8 1088.3,1294.1 1089.8,1297.3 1091.2,1298.7 1092.7,1300.0 1094.1,1295.5 1095.6,1291.0 1097.0,1294.3 1098.0,1296.4 1098.5,1297.5 1099.9,1298.6 1101.4,1299.6 1102.8,1298.2 1104.3,1296.9 1105.7,1295.3 1107.2,1293.7 1108.6,1293.7 1110.1,1293.8 1111.5,1292.6 1113.0,1291.4 1114.4,1292.4 1115.9,1293.3 1117.3,1291.2 1118.8,1289.1 1120.2,1290.6 1121.7,1292.0 1123.1,1290.5 1124.6,1288.9 1126.0,1287.8 1127.5,1286.7 1128.9,1290.9 1130.4,1295.2 1131.8,1289.9 1133.3,1284.7 1134.7,1290.0 1136.2,1295.3 1137.6,1289.1 1139.1,1282.9 1140.5,1287.5 1142.0,1292.0 1143.4,1290.7 1143.6,1290.6 1144.9,1289.5 1146.3,1286.6 1147.8,1283.8 1149.2,1285.4 1150.7,1286.9 1152.1,1286.1 1153.6,1285.2 1155.0,1285.2 1156.5,1285.2 1157.9,1287.9 1159.4,1290.6 1160.8,1287.4 1162.3,1284.1 1163.7,1282.9 1165.2,1281.7 1166.6,1286.2 1168.1,1290.7 1169.5,1289.5 1171.0,1288.3 1172.4,1287.7 1173.9,1287.0 1175.3,1286.4 1176.8,1285.9 1178.2,1287.3 1179.7,1288.7 1181.1,1288.1 1182.6,1287.5 1184.0,1286.7 1185.5,1285.9 1186.9,1285.1 1188.4,1284.2 1189.0,1285.2 1189.8,1286.7 1191.3,1289.1 1192.7,1289.6 1194.2,1290.1 1195.6,1288.5 1197.1,1286.9 1198.5,1290.6 1200.0,1294.4 1201.4,1290.1 1202.9,1285.8 1204.3,1285.6 1205.8,1285.5 1207.2,1287.4 1208.7,1289.3 1210.1,1287.4 1211.6,1285.4 1213.0,1285.3 1214.5,1285.1 1215.9,1283.6 1217.4,1282.0 1218.8,1283.7 1220.3,1285.4 1221.7,1282.0 1223.2,1278.7 1224.6,1280.0 1226.1,1281.4 1227.5,1280.7 1229.0,1280.1 1230.4,1278.3 1231.9,1276.5 1233.3,1281.4 1234.5,1285.3 1234.8,1286.3 1236.2,1284.0 1237.7,1281.7 1239.1,1280.7 1240.6,1279.8 1242.0,1281.5 1243.5,1283.3 1244.9,1280.7 1246.4,1278.1 1247.8,1281.2 1249.3,1284.4 1250.7,1285.0 1252.2,1285.6 1253.6,1281.2 1255.1,1276.7 1256.5,1280.5 1258.0,1284.4 1259.4,1282.7 1260.9,1281.1 1262.3,1282.3 1263.8,1283.6 1265.0,1282.3 1265.2,1282.0 1266.7,1280.2 1268.1,1278.2 1269.6,1276.2 1271.0,1274.7 1272.5,1273.1 1273.9,1273.4 1275.4,1273.7 1276.8,1274.2 1278.3,1274.7 1279.7,1276.6 1281.2,1278.5 1282.6,1278.4 1284.1,1278.3 1285.5,1276.3 1287.0,1274.4 1288.4,1275.7 1289.9,1277.0 1291.3,1271.6 1292.8,1266.1 1294.2,1266.7 1295.0,1267.0 1295.7,1267.2 1297.1,1266.8 1298.6,1266.4 1300.0,1267.7 1301.5,1269.0 1302.9,1263.4 1304.4,1257.8 1305.8,1261.5 1307.3,1265.1 1308.7,1267.5 1310.2,1269.9 1311.0,1269.3 1311.6,1268.6 1313.1,1267.1 1314.5,1267.0 1316.0,1266.8 1317.4,1262.8 1318.9,1258.7 1320.3,1257.0 1321.8,1255.3 1323.2,1256.2 1324.7,1257.1 1326.1,1253.0 1327.3,1249.8 1327.6,1249.0 1329.0,1250.4 1330.5,1251.8 1331.9,1250.5 1333.4,1249.1 1334.8,1249.1 1336.3,1249.1 1337.7,1249.3 1339.2,1249.6 1340.6,1248.5 1341.8,1247.8 1342.1,1247.7 1343.5,1246.5 1345.0,1245.4 1346.4,1243.2 1347.9,1241.1 1349.3,1241.9 1350.8,1242.7 1352.2,1240.6 1352.7,1240.0 1353.7,1237.8 1355.1,1234.1 1356.6,1230.4 1358.0,1228.7 1359.5,1227.0 1360.9,1226.0 1361.8,1225.6 1362.4,1224.7 1363.8,1221.9 1365.3,1219.0 1366.7,1215.3 1367.3,1214.0 1368.2,1212.7 1369.6,1209.4 1371.1,1206.1 1372.5,1204.3 1374.0,1202.3 1374.5,1200.9 1375.4,1198.0 1376.9,1193.5 1378.3,1192.5 1379.8,1191.1 1380.0,1190.1 1381.2,1181.9 1382.7,1173.0 1384.1,1164.3 1385.5,1156.2 1385.6,1155.4 1387.0,1145.5 1388.5,1135.2 1389.9,1124.2 1390.0,1123.8 1391.4,1112.6 1392.8,1101.7 1393.6,1096.7 1394.3,1094.4 1395.7,1090.7 1396.4,1090.8 1397.2,1092.2 1398.6,1092.6 1400.1,1093.9 1401.5,1098.4 1401.8,1099.2 1403.0,1106.8 1404.4,1116.2 1405.5,1123.4 1405.9,1127.3 1407.3,1142.5 1408.8,1158.0 1409.0,1160.1 1410.2,1173.2 1411.7,1188.4 1413.1,1202.2 1413.6,1206.4 1414.6,1213.7 1416.0,1224.5 1417.5,1234.8 1418.2,1238.7 1418.9,1240.2 1420.4,1242.6 1421.8,1250.0 1423.3,1257.3 1424.5,1261.1 1424.7,1261.5 1426.2,1263.1 1427.6,1265.2 1429.1,1267.3 1430.5,1268.2 1432.0,1268.9 1433.4,1269.1 1433.6,1269.1 1434.9,1267.8 1436.3,1269.4 1437.8,1270.8 1439.2,1268.9 1440.7,1267.0 1442.1,1266.7 1443.6,1266.6 1443.6,1266.6 1445.0,1266.1 1446.5,1265.8 1447.9,1266.9 1449.4,1268.1 1450.8,1269.6 1451.0,1269.8 1452.3,1269.4 1453.7,1268.1 1455.2,1266.6 1456.6,1263.5 1458.1,1260.5 1459.5,1258.9 1460.0,1258.5 1461.0,1257.9 1462.4,1256.6 1463.9,1255.2 1465.3,1256.0 1466.8,1256.7 1468.2,1253.8 1469.7,1250.9 1471.0,1250.3 1471.1,1250.0 1472.6,1247.3 1474.0,1244.5 1475.5,1241.6 1476.9,1237.6 1478.4,1233.5 1479.0,1232.3 1479.8,1229.5 1481.3,1224.2 1482.7,1219.3 1483.6,1216.7 1484.2,1215.4 1485.6,1209.6 1487.1,1203.8 1488.5,1200.5 1490.0,1196.9 1491.0,1192.5 1491.4,1189.6 1492.9,1180.4 1494.3,1170.6 1494.5,1169.5 1495.8,1156.8 1497.2,1142.5 1498.2,1133.1 1498.7,1128.2 1500.1,1114.0 1501.6,1099.5 1501.8,1097.3 1503.0,1080.2 1504.5,1059.6 1504.5,1059.6 1505.9,1029.6 1507.4,998.4 1508.5,976.1 1508.8,971.8 1510.3,954.8 1511.7,937.8 1513.2,921.4 1514.6,906.6 1515.0,903.1 1516.1,895.2 1517.5,883.9 1518.5,876.1 1519.0,870.1 1520.4,852.9 1520.5,852.5 1521.9,862.1 1523.3,875.0 1523.4,875.4 1524.8,888.4 1526.2,900.6 1526.4,901.8 1527.7,914.3 1529.1,929.7 1530.6,945.3 1532.0,960.3 1533.3,974.0 1533.5,977.2 1534.9,1002.2 1536.4,1028.3 1537.8,1053.8 1538.2,1060.0 1539.3,1082.3 1540.0,1096.2 1540.7,1106.6 1542.2,1125.8 1542.7,1132.3 1543.6,1142.1 1545.1,1156.6 1546.4,1168.7 1546.5,1169.6 1548.0,1177.7 1549.4,1184.7 1550.0,1187.0 1550.9,1188.0 1552.3,1189.3 1553.6,1191.4 1553.8,1192.3 1555.2,1200.0 1556.7,1208.1 1558.1,1213.8 1558.2,1213.9 1559.6,1212.9 1561.0,1214.4 1562.5,1215.9 1563.6,1218.5 1563.9,1219.7 1565.4,1225.1 1566.8,1228.6 1568.2,1231.9 1568.3,1232.0 1569.7,1232.9 1571.2,1233.4 1572.6,1239.7 1572.7,1239.9 1574.1,1241.4 1575.5,1235.6 1577.0,1229.9 1577.3,1229.8 1578.4,1228.3 1579.9,1225.8 1581.3,1219.4 1581.8,1217.1 1582.8,1206.4 1584.2,1190.4 1584.5,1187.7 1585.7,1172.0 1587.1,1152.5 1587.3,1150.7 1588.6,1141.1 1590.0,1133.0 1591.0,1127.3 1591.5,1129.3 1592.9,1133.1 1594.4,1137.4 1595.5,1141.2 1595.8,1143.7 1597.3,1154.9 1598.7,1166.5 1599.0,1168.5 1600.2,1177.9 1601.6,1189.5 1603.1,1201.1 1603.6,1205.1 1604.5,1212.8 1606.0,1224.7 1607.4,1235.9 1608.2,1241.4 1608.9,1244.8 1610.3,1252.4 1611.8,1259.5 1612.7,1263.6 1613.2,1264.8 1614.7,1267.8 1616.1,1267.5 1617.6,1266.9 1619.0,1270.7 1620.0,1273.1 1620.5,1273.9 1621.9,1273.2 1623.4,1272.5 1624.8,1274.1 1626.3,1275.8 1627.7,1277.1 1629.2,1278.5 1630.6,1275.8 1632.1,1273.0 1632.7,1273.7 1633.5,1274.7 1635.0,1276.2 1636.4,1278.2 1637.9,1280.2 1639.3,1280.5 1640.8,1280.7 1642.2,1278.4 1643.7,1276.0 1645.1,1278.2 1646.6,1280.4 1648.0,1279.5 1648.0,1279.4 1649.5,1277.9 1650.9,1276.8 1652.4,1275.7 1653.8,1274.0 1655.3,1272.3 1656.7,1272.5 1658.2,1272.7 1659.6,1272.4 1661.1,1272.1 1662.5,1269.4 1664.0,1266.7 1665.4,1267.7 1665.4,1267.8 1666.9,1270.4 1668.3,1269.2 1669.8,1268.3 1671.2,1269.7 1672.7,1271.0 1674.1,1274.7 1675.6,1278.3 1677.0,1278.2 1677.0,1278.2 1678.5,1276.9 1679.9,1275.9 1681.4,1274.9 1682.8,1276.5 1684.3,1278.1 1685.7,1278.5 1687.2,1278.8 1688.6,1277.7 1690.1,1276.6 1691.5,1278.5 1693.0,1280.5 1694.4,1277.1 1695.9,1273.8 1696.0,1273.8 1697.3,1273.7 1698.8,1273.7 1700.2,1276.0 1701.7,1278.2 1703.1,1275.3 1704.6,1272.3 1706.0,1274.8 1707.5,1277.3 1708.9,1273.7 1710.4,1270.2 1711.8,1271.1 1713.3,1271.9 1714.7,1273.1 1715.4,1273.6 1716.2,1274.4 1717.6,1274.2 1719.1,1274.1 1720.5,1277.2 1722.0,1280.3 1723.4,1276.8 1724.9,1273.4 1726.3,1275.0 1727.8,1276.6 1729.2,1277.2 1730.7,1277.7 1732.1,1277.5 1733.6,1277.3 1734.6,1278.7 1735.0,1279.1 1736.5,1280.3 1737.9,1277.1 1739.4,1273.9 1740.8,1273.2 1742.3,1272.5 1743.7,1271.0 1745.2,1269.6 1746.0,1270.6 1746.6,1271.4 1748.1,1272.9 1749.5,1271.0 1751.0,1269.0 1752.4,1267.8 1753.9,1266.7 1755.3,1265.5 1756.8,1264.2 1758.2,1261.2 1759.7,1258.2 1761.1,1259.4 1762.6,1260.6 1763.5,1259.8 1764.0,1259.4 1765.5,1258.4 1766.9,1259.3 1768.4,1260.1 1769.8,1257.9 1771.3,1255.7 1772.7,1253.2 1774.2,1250.8 1775.6,1250.8 1777.1,1250.9 1778.5,1253.4 1779.8,1255.7 1780.0,1256.2 1781.4,1252.0 1782.9,1247.8 1784.3,1247.8 1785.8,1247.9 1787.2,1250.5 1788.7,1253.2 1790.1,1255.3 1791.6,1257.4 1793.0,1255.7 1794.5,1254.0 1795.9,1252.6 1797.4,1251.1 1798.8,1256.4 1800.3,1261.7 1801.7,1257.7 1802.0,1257.0 1803.2,1253.9 1804.6,1256.7 1806.1,1259.6 1807.5,1261.1 1809.0,1262.7 1810.4,1261.3 1811.9,1260.0 1813.3,1261.3 1814.8,1262.7 1816.2,1264.5 1817.7,1266.4 1819.1,1262.9 1820.6,1259.4 1821.0,1260.4 1822.0,1262.8 1823.5,1266.2 1824.9,1267.0 1826.4,1267.9 1827.8,1268.3 1829.3,1268.6 1830.7,1266.4 1832.2,1264.2 1833.6,1265.8 1835.1,1267.3 1836.5,1266.1 1838.0,1264.8 1839.4,1265.1 1840.4,1265.3 1840.9,1265.5 1842.3,1264.3 1843.8,1263.1 1845.2,1267.3 1846.7,1271.6 1848.1,1271.6 1849.6,1271.7 1851.0,1273.7 1852.5,1275.8 1853.9,1271.4 1855.4,1267.0 1856.8,1269.8 1858.3,1272.7 1859.6,1274.8 1859.7,1275.1 1861.2,1277.5 1862.6,1280.2 1864.1,1282.9 1865.5,1280.0 1867.0,1277.1 1868.4,1276.3 1869.9,1275.4 1871.3,1277.8 1872.8,1280.2 1874.2,1281.5 1875.7,1282.9 1877.1,1284.9 1878.6,1286.8 1878.8,1286.9 1880.0,1287.7 1881.5,1288.7 1882.9,1288.5 1884.4,1288.3 1885.8,1287.6 1887.3,1286.8 1888.7,1290.5 1890.2,1294.1 1891.6,1290.4 1893.1,1286.8 1894.5,1288.2 1896.0,1289.7 1897.4,1291.0 1898.0,1291.5 1898.9,1292.4 1900.3,1291.4 1901.8,1290.3 1903.2,1291.3 1904.7,1292.4 1906.1,1294.2 1907.6,1296.1 1909.0,1294.5 1910.5,1292.8 1911.9,1294.4 1913.4,1296.1 1914.8,1296.7 1916.3,1297.3 1917.3,1300.1 1917.7,1301.4 1919.2,1305.4 1920.6,1303.7 1922.1,1302.0 1923.5,1300.2 1925.0,1298.5 1926.4,1301.0 1927.9,1303.5 1929.3,1301.3 1930.8,1299.0 1932.2,1301.5 1933.7,1304.0 1934.6,1302.3 1935.1,1301.1 1936.6,1298.0 1938.0,1301.4 1939.5,1304.9 1940.9,1303.5 1942.4,1302.2 1943.8,1300.4 1945.3,1298.6 1946.7,1301.1 1948.2,1303.6 1949.6,1304.2 1951.1,1304.7 1952.5,1303.9 1954.0,1303.1 1954.5,1303.0" fill="none" stroke="#00009c" stroke-width="6.8" stroke-linejoin="round" stroke-linecap="butt"/>
<g font-family="'Liberation Serif','Times New Roman',serif" fill="#000">
<text x="329.0" y="1418.6" font-size="79" text-anchor="middle">200</text>
<text x="619.1" y="1418.6" font-size="79" text-anchor="middle">250</text>
<text x="909.2" y="1418.6" font-size="79" text-anchor="middle">300</text>
<text x="1199.3" y="1418.6" font-size="79" text-anchor="middle">350</text>
<text x="1489.4" y="1418.6" font-size="79" text-anchor="middle">400</text>
<text x="1779.5" y="1418.6" font-size="79" text-anchor="middle">450</text>
<text x="775.5" y="1547.2" font-size="89.2">Raman Shift (cm<tspan font-size="53" dy="-47.6" dx="-11">−</tspan><tspan font-size="53" dx="-0.5">1</tspan><tspan dy="47.6" dx="-0.5">)</tspan></text>
<text transform="translate(87.5,842.6) rotate(-90)" font-size="89"><tspan font-style="italic">I</tspan> (arb. un.)</text>
<text x="784.3" y="401.6" font-size="89">950 <tspan font-size="53.5" dy="-48.8">o</tspan><tspan dy="48.8" dx="1.2">C</tspan></text>
<text x="788.3" y="683.0" font-size="89">850 <tspan font-size="53.5" dy="-48.8">o</tspan><tspan dy="48.8" dx="1.2">C</tspan></text>
<text x="793.0" y="937.8" font-size="89">750 <tspan font-size="53.5" dy="-48.8">o</tspan><tspan dy="48.8" dx="1.2">C</tspan></text>
<text x="789.3" y="1217.4" font-size="89">650 <tspan font-size="53.5" dy="-48.8">o</tspan><tspan dy="48.8" dx="1.2">C</tspan></text>
<text x="1575.6" y="120.8" font-size="80.5">A<tspan font-size="53.5">1g</tspan></text>
<text x="1262.4" y="289" font-size="80.5">E<tspan font-size="53.5">2g</tspan></text>
<text x="1571.3" y="304.7" font-size="81.3">sapphire</text>
<text x="398.8" y="1218.2" font-size="80.4">LA(M)</text>
</g>
</svg>
</body></html>
